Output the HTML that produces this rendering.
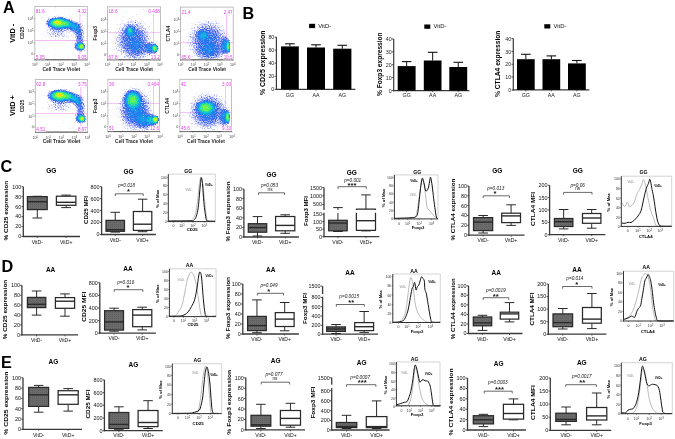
<!DOCTYPE html>
<html><head><meta charset="utf-8"><title>Figure</title>
<style>
html,body{margin:0;padding:0;background:#fff;}
body{width:675px;height:439px;overflow:hidden;}
svg{display:block;}
text{font-family:"Liberation Sans",Arial,sans-serif;}
</style></head>
<body>
<svg width="675" height="439" viewBox="0 0 675 439">
<defs>
<pattern id="gpat" width="2" height="2" patternUnits="userSpaceOnUse">
<rect width="2" height="2" fill="#6b6b6b"/><rect width="1" height="1" fill="#5e5e5e"/>
</pattern>
<radialGradient id="blob">
<stop offset="0" stop-color="#fff" stop-opacity="1"/>
<stop offset="0.3" stop-color="#fff" stop-opacity="0.9"/>
<stop offset="0.5" stop-color="#fff" stop-opacity="0.7"/>
<stop offset="0.7" stop-color="#fff" stop-opacity="0.42"/>
<stop offset="0.85" stop-color="#fff" stop-opacity="0.18"/>
<stop offset="1" stop-color="#fff" stop-opacity="0"/>
</radialGradient>
<filter id="dens" x="0" y="0" width="1" height="1" color-interpolation-filters="sRGB">
<feTurbulence type="fractalNoise" baseFrequency="0.85" numOctaves="1" seed="7" result="nz"/>
<feColorMatrix in="nz" type="matrix" values="1 0 0 0 0  1 0 0 0 0  1 0 0 0 0  0 0 0 0 1" result="ng"/>
<feComposite in="SourceGraphic" in2="ng" operator="arithmetic" k1="0" k2="1" k3="0.25" k4="-0.12" result="dn"/>
<feComponentTransfer in="dn" result="col">
<feFuncR type="table" tableValues="0.720 0.688 0.656 0.624 0.592 0.560 0.520 0.480 0.440 0.400 0.360 0.332 0.304 0.276 0.248 0.220 0.200 0.180 0.160 0.140 0.120 0.106 0.092 0.078 0.064 0.050 0.080 0.110 0.140 0.170 0.200 0.260 0.320 0.380 0.440 0.500 0.570 0.640 0.710 0.780 0.850 0.887 0.925 0.962 1.000 1.000 1.000 1.000 0.973 0.947 0.920"/>
<feFuncG type="table" tableValues="0.720 0.692 0.664 0.636 0.608 0.580 0.548 0.516 0.484 0.452 0.420 0.408 0.396 0.384 0.372 0.360 0.388 0.416 0.444 0.472 0.500 0.548 0.596 0.644 0.692 0.740 0.772 0.804 0.836 0.868 0.900 0.914 0.928 0.942 0.956 0.970 0.976 0.982 0.988 0.994 1.000 0.945 0.890 0.835 0.780 0.660 0.540 0.420 0.320 0.220 0.120"/>
<feFuncB type="table" tableValues="1.000 1.000 1.000 1.000 1.000 1.000 0.994 0.988 0.982 0.976 0.970 0.964 0.958 0.952 0.946 0.940 0.938 0.936 0.934 0.932 0.930 0.924 0.918 0.912 0.906 0.900 0.830 0.760 0.690 0.620 0.550 0.490 0.430 0.370 0.310 0.250 0.216 0.182 0.148 0.114 0.080 0.060 0.040 0.020 0.000 0.000 0.000 0.000 0.000 0.000 0.000"/>
</feComponentTransfer>
<feComposite in="SourceGraphic" in2="ng" operator="arithmetic" k1="0" k2="4" k3="2.4" k4="-1.6" result="mk"/>
<feColorMatrix in="mk" type="matrix" values="0 0 0 0 0  0 0 0 0 0  0 0 0 0 0  1 0 0 0 0" result="ma"/>
<feComposite in="col" in2="ma" operator="in"/>
<feGaussianBlur stdDeviation="0.4"/>
</filter>
<clipPath id="fc0"><rect x="34.8" y="6.5" width="52.5" height="53.3"/></clipPath>
<clipPath id="fc1"><rect x="107.5" y="6.8" width="52.9" height="53"/></clipPath>
<clipPath id="fc2"><rect x="180.5" y="7.1" width="52.7" height="52.7"/></clipPath>
<clipPath id="fc3"><rect x="35.3" y="79.6" width="52.2" height="52.5"/></clipPath>
<clipPath id="fc4"><rect x="107.9" y="79.3" width="51.7" height="52.3"/></clipPath>
<clipPath id="fc5"><rect x="179.9" y="79.3" width="51.7" height="52.3"/></clipPath>
</defs>
<rect width="675" height="439" fill="#fff"/>
<line x1="34.8" y1="40.5" x2="87.3" y2="40.5" stroke="#e23ee6" stroke-width="0.6" opacity="0.6"/>
<line x1="79.9" y1="12.5" x2="79.9" y2="59.8" stroke="#e23ee6" stroke-width="0.6" opacity="0.6"/>
<g clip-path="url(#fc0)"><g filter="url(#dens)">
<rect x="34.8" y="6.5" width="52.5" height="53.3" fill="#000"/>
<ellipse cx="58" cy="33" rx="18" ry="8" fill="url(#blob)" opacity="0.18"/>
<ellipse cx="58.5" cy="23.5" rx="16" ry="8.8" fill="url(#blob)" opacity="0.45"/>
<ellipse cx="58.5" cy="22.8" rx="13.5" ry="6.2" fill="url(#blob)" opacity="0.5"/>
<ellipse cx="57.5" cy="22.4" rx="5" ry="2.8" fill="url(#blob)" opacity="0.5"/>
<ellipse cx="70.5" cy="25" rx="8" ry="7" fill="url(#blob)" opacity="0.38"/>
<ellipse cx="75.5" cy="28" rx="6" ry="7.5" fill="url(#blob)" opacity="0.32"/>
<ellipse cx="79.6" cy="35.5" rx="6" ry="17" fill="url(#blob)" opacity="0.32"/>
<ellipse cx="77" cy="46" rx="5" ry="6" fill="url(#blob)" opacity="0.2"/>
<ellipse cx="80.5" cy="47" rx="6.5" ry="6" fill="url(#blob)" opacity="0.4"/>
<ellipse cx="82" cy="46.6" rx="3.2" ry="3.8" fill="url(#blob)" opacity="0.6"/>
</g></g>
<rect x="34.8" y="6.5" width="52.5" height="53.3" fill="none" stroke="#b0b0b0" stroke-width="0.8"/>
<line x1="34.8" y1="59.8" x2="87.3" y2="59.8" stroke="#444" stroke-width="0.9"/>
<rect x="35.5" y="8.3" width="9.8" height="5.4" fill="#fff"/>
<rect x="77.2" y="8.3" width="9.8" height="5.4" fill="#fff"/>
<rect x="35.5" y="54" width="9.8" height="5.4" fill="#fff"/>
<rect x="77.2" y="54" width="9.8" height="5.4" fill="#fff"/>
<line x1="107.5" y1="32.3" x2="160.4" y2="32.3" stroke="#e23ee6" stroke-width="0.6" opacity="0.6"/>
<line x1="153.3" y1="12.8" x2="153.3" y2="59.8" stroke="#e23ee6" stroke-width="0.6" opacity="0.6"/>
<g clip-path="url(#fc1)"><g filter="url(#dens)">
<rect x="107.5" y="6.8" width="52.9" height="53" fill="#000"/>
<ellipse cx="133" cy="40" rx="22" ry="25" fill="url(#blob)" opacity="0.36"/>
<ellipse cx="141" cy="50" rx="17" ry="12" fill="url(#blob)" opacity="0.12"/>
<ellipse cx="130" cy="31" rx="6.5" ry="7.5" fill="url(#blob)" opacity="0.25"/>
<ellipse cx="130" cy="30" rx="2.5" ry="3" fill="url(#blob)" opacity="0.3"/>
<ellipse cx="152" cy="48.5" rx="8.5" ry="8" fill="url(#blob)" opacity="0.35"/>
<ellipse cx="155" cy="48.2" rx="3.5" ry="5" fill="url(#blob)" opacity="0.6"/>
</g></g>
<rect x="107.5" y="6.8" width="52.9" height="53" fill="none" stroke="#b0b0b0" stroke-width="0.8"/>
<line x1="107.5" y1="59.8" x2="160.4" y2="59.8" stroke="#444" stroke-width="0.9"/>
<rect x="108.2" y="8.6" width="9.8" height="5.4" fill="#fff"/>
<rect x="148" y="8.6" width="12.1" height="5.4" fill="#fff"/>
<rect x="108.2" y="54" width="9.8" height="5.4" fill="#fff"/>
<rect x="150.3" y="54" width="9.8" height="5.4" fill="#fff"/>
<line x1="180.5" y1="42.4" x2="233.2" y2="42.4" stroke="#e23ee6" stroke-width="0.6" opacity="0.6"/>
<line x1="226.6" y1="13.1" x2="226.6" y2="59.8" stroke="#e23ee6" stroke-width="0.6" opacity="0.6"/>
<g clip-path="url(#fc2)"><g filter="url(#dens)">
<rect x="180.5" y="7.1" width="52.7" height="52.7" fill="#000"/>
<ellipse cx="208" cy="40" rx="24" ry="24" fill="url(#blob)" opacity="0.36"/>
<ellipse cx="210" cy="53" rx="20" ry="11" fill="url(#blob)" opacity="0.18"/>
<ellipse cx="202.5" cy="35" rx="7" ry="7" fill="url(#blob)" opacity="0.25"/>
<ellipse cx="225.5" cy="46" rx="6" ry="12" fill="url(#blob)" opacity="0.35"/>
<ellipse cx="228.3" cy="46.5" rx="2.4" ry="8" fill="url(#blob)" opacity="0.55"/>
</g></g>
<rect x="180.5" y="7.1" width="52.7" height="52.7" fill="none" stroke="#b0b0b0" stroke-width="0.8"/>
<line x1="180.5" y1="59.8" x2="233.2" y2="59.8" stroke="#444" stroke-width="0.9"/>
<rect x="181.2" y="8.9" width="9.8" height="5.4" fill="#fff"/>
<rect x="223.1" y="8.9" width="9.8" height="5.4" fill="#fff"/>
<rect x="181.2" y="54" width="9.8" height="5.4" fill="#fff"/>
<rect x="223.1" y="54" width="9.8" height="5.4" fill="#fff"/>
<line x1="35.3" y1="113.4" x2="87.5" y2="113.4" stroke="#e23ee6" stroke-width="0.6" opacity="0.6"/>
<line x1="80.8" y1="85.6" x2="80.8" y2="132.1" stroke="#e23ee6" stroke-width="0.6" opacity="0.6"/>
<g clip-path="url(#fc3)"><g filter="url(#dens)">
<rect x="35.3" y="79.6" width="52.2" height="52.5" fill="#000"/>
<ellipse cx="60" cy="106" rx="17" ry="8" fill="url(#blob)" opacity="0.18"/>
<ellipse cx="60" cy="96" rx="16.5" ry="8.8" fill="url(#blob)" opacity="0.45"/>
<ellipse cx="60" cy="95.5" rx="13.5" ry="6.3" fill="url(#blob)" opacity="0.52"/>
<ellipse cx="59.5" cy="94.8" rx="5" ry="2.8" fill="url(#blob)" opacity="0.52"/>
<ellipse cx="72" cy="97.5" rx="8" ry="7" fill="url(#blob)" opacity="0.38"/>
<ellipse cx="76.5" cy="100.5" rx="6" ry="7.5" fill="url(#blob)" opacity="0.32"/>
<ellipse cx="80.5" cy="107.5" rx="6" ry="17" fill="url(#blob)" opacity="0.32"/>
<ellipse cx="78" cy="118" rx="5" ry="6" fill="url(#blob)" opacity="0.2"/>
<ellipse cx="81.5" cy="119" rx="6.5" ry="6" fill="url(#blob)" opacity="0.4"/>
<ellipse cx="82.5" cy="118.8" rx="3.2" ry="3.8" fill="url(#blob)" opacity="0.6"/>
</g></g>
<rect x="35.3" y="79.6" width="52.2" height="52.5" fill="none" stroke="#b0b0b0" stroke-width="0.8"/>
<line x1="35.3" y1="132.1" x2="87.5" y2="132.1" stroke="#444" stroke-width="0.9"/>
<rect x="36" y="81.4" width="9.8" height="5.4" fill="#fff"/>
<rect x="77.4" y="81.4" width="9.8" height="5.4" fill="#fff"/>
<rect x="36" y="126.3" width="9.8" height="5.4" fill="#fff"/>
<rect x="77.4" y="126.3" width="9.8" height="5.4" fill="#fff"/>
<line x1="107.9" y1="103.3" x2="159.6" y2="103.3" stroke="#e23ee6" stroke-width="0.6" opacity="0.6"/>
<line x1="153.4" y1="85.3" x2="153.4" y2="131.6" stroke="#e23ee6" stroke-width="0.6" opacity="0.6"/>
<g clip-path="url(#fc4)"><g filter="url(#dens)">
<rect x="107.9" y="79.3" width="51.7" height="52.3" fill="#000"/>
<ellipse cx="135" cy="110" rx="20" ry="25" fill="url(#blob)" opacity="0.42"/>
<ellipse cx="147" cy="122" rx="13" ry="11" fill="url(#blob)" opacity="0.3"/>
<ellipse cx="132.5" cy="98.5" rx="11" ry="11.5" fill="url(#blob)" opacity="0.45"/>
<ellipse cx="132.5" cy="98.5" rx="6.5" ry="8" fill="url(#blob)" opacity="0.12"/>
<ellipse cx="152.5" cy="120" rx="7.5" ry="7.5" fill="url(#blob)" opacity="0.35"/>
<ellipse cx="155.7" cy="119.5" rx="3.8" ry="4.5" fill="url(#blob)" opacity="0.7"/>
</g></g>
<rect x="107.9" y="79.3" width="51.7" height="52.3" fill="none" stroke="#b0b0b0" stroke-width="0.8"/>
<line x1="107.9" y1="131.6" x2="159.6" y2="131.6" stroke="#444" stroke-width="0.9"/>
<rect x="108.6" y="81.1" width="5.2" height="5.4" fill="#fff"/>
<rect x="147.2" y="81.1" width="12.1" height="5.4" fill="#fff"/>
<rect x="108.6" y="125.8" width="5.2" height="5.4" fill="#fff"/>
<rect x="149.5" y="125.8" width="9.8" height="5.4" fill="#fff"/>
<line x1="179.9" y1="112.7" x2="231.6" y2="112.7" stroke="#e23ee6" stroke-width="0.6" opacity="0.6"/>
<line x1="225.4" y1="85.3" x2="225.4" y2="131.6" stroke="#e23ee6" stroke-width="0.6" opacity="0.6"/>
<g clip-path="url(#fc5)"><g filter="url(#dens)">
<rect x="179.9" y="79.3" width="51.7" height="52.3" fill="#000"/>
<ellipse cx="208" cy="111.5" rx="23" ry="22.5" fill="url(#blob)" opacity="0.4"/>
<ellipse cx="205.5" cy="107.5" rx="11" ry="8" fill="url(#blob)" opacity="0.45"/>
<ellipse cx="205.5" cy="107.5" rx="7" ry="5" fill="url(#blob)" opacity="0.12"/>
<ellipse cx="225" cy="118" rx="6.5" ry="12" fill="url(#blob)" opacity="0.35"/>
<ellipse cx="227.7" cy="117" rx="2.5" ry="8" fill="url(#blob)" opacity="0.6"/>
</g></g>
<rect x="179.9" y="79.3" width="51.7" height="52.3" fill="none" stroke="#b0b0b0" stroke-width="0.8"/>
<line x1="179.9" y1="131.6" x2="231.6" y2="131.6" stroke="#444" stroke-width="0.9"/>
<rect x="180.6" y="81.1" width="5.2" height="5.4" fill="#fff"/>
<rect x="221.5" y="81.1" width="9.8" height="5.4" fill="#fff"/>
<rect x="180.6" y="125.8" width="9.8" height="5.4" fill="#fff"/>
<rect x="221.5" y="125.8" width="9.8" height="5.4" fill="#fff"/>
<text x="3" y="13" font-size="16.2" font-weight="bold">A</text>
<text x="242.6" y="19" font-size="16.2" font-weight="bold">B</text>
<text x="0.6" y="172" font-size="16.2" font-weight="bold">C</text>
<text x="1.4" y="272" font-size="16.2" font-weight="bold">D</text>
<text x="1" y="368" font-size="16.2" font-weight="bold">E</text>
<line x1="23.3" y1="186.7" x2="23.3" y2="237.1" stroke="#3a3a3a" stroke-width="1.3"/>
<line x1="22.7" y1="236.5" x2="80" y2="236.5" stroke="#3a3a3a" stroke-width="1.3"/>
<line x1="21.5" y1="236.5" x2="23.3" y2="236.5" stroke="#3a3a3a" stroke-width="0.9"/>
<text x="21.3" y="238" font-size="5.4" text-anchor="end" fill="#111">0</text>
<line x1="21.5" y1="226.54" x2="23.3" y2="226.54" stroke="#3a3a3a" stroke-width="0.9"/>
<text x="21.3" y="228" font-size="5.4" text-anchor="end" fill="#111">20</text>
<line x1="21.5" y1="216.58" x2="23.3" y2="216.58" stroke="#3a3a3a" stroke-width="0.9"/>
<text x="21.3" y="218" font-size="5.4" text-anchor="end" fill="#111">40</text>
<line x1="21.5" y1="206.62" x2="23.3" y2="206.62" stroke="#3a3a3a" stroke-width="0.9"/>
<text x="21.3" y="209" font-size="5.4" text-anchor="end" fill="#111">60</text>
<line x1="21.5" y1="196.66" x2="23.3" y2="196.66" stroke="#3a3a3a" stroke-width="0.9"/>
<text x="21.3" y="199" font-size="5.4" text-anchor="end" fill="#111">80</text>
<line x1="21.5" y1="186.7" x2="23.3" y2="186.7" stroke="#3a3a3a" stroke-width="0.9"/>
<text x="21.3" y="189" font-size="5.4" text-anchor="end" fill="#111">100</text>
<line x1="37.3" y1="196.3" x2="37.3" y2="196.6" stroke="#2a2a2a" stroke-width="1"/>
<line x1="37.3" y1="209.6" x2="37.3" y2="218" stroke="#2a2a2a" stroke-width="1"/>
<line x1="32.5" y1="196.3" x2="42.1" y2="196.3" stroke="#2a2a2a" stroke-width="1"/>
<line x1="32.5" y1="218" x2="42.1" y2="218" stroke="#2a2a2a" stroke-width="1"/>
<rect x="27.4" y="196.6" width="19.8" height="13" fill="url(#gpat)" stroke="#2a2a2a" stroke-width="1.25"/>
<line x1="27.4" y1="201.7" x2="47.2" y2="201.7" stroke="#2a2a2a" stroke-width="1.4"/>
<line x1="37.3" y1="236.5" x2="37.3" y2="238" stroke="#3a3a3a" stroke-width="0.8"/>
<line x1="66.15" y1="195.1" x2="66.15" y2="196.2" stroke="#2a2a2a" stroke-width="1"/>
<line x1="66.15" y1="205.3" x2="66.15" y2="207.6" stroke="#2a2a2a" stroke-width="1"/>
<line x1="61.35" y1="195.1" x2="70.95" y2="195.1" stroke="#2a2a2a" stroke-width="1"/>
<line x1="61.35" y1="207.6" x2="70.95" y2="207.6" stroke="#2a2a2a" stroke-width="1"/>
<rect x="56.4" y="196.2" width="19.5" height="9.1" fill="#fff" stroke="#2a2a2a" stroke-width="1.25"/>
<line x1="56.4" y1="202.3" x2="75.9" y2="202.3" stroke="#2a2a2a" stroke-width="1.4"/>
<line x1="66.15" y1="236.5" x2="66.15" y2="238" stroke="#3a3a3a" stroke-width="0.8"/>
<text x="37.3" y="244" font-size="5.1" text-anchor="middle" fill="#111">VitD-</text>
<text x="66.15" y="244" font-size="5.1" text-anchor="middle" fill="#111">VitD+</text>
<text x="51.3" y="173" font-size="6.5" text-anchor="middle" font-weight="bold">GG</text>
<text x="0" y="0" transform="translate(7.65 210.7) rotate(-90)" font-size="6" text-anchor="middle" font-weight="bold" textLength="59.6" lengthAdjust="spacingAndGlyphs">% CD25 expression</text>
<line x1="101.6" y1="186.7" x2="101.6" y2="235.1" stroke="#3a3a3a" stroke-width="1.3"/>
<line x1="101" y1="234.5" x2="155.9" y2="234.5" stroke="#3a3a3a" stroke-width="1.3"/>
<line x1="99.8" y1="234.5" x2="101.6" y2="234.5" stroke="#3a3a3a" stroke-width="0.9"/>
<text x="99.6" y="236" font-size="5.4" text-anchor="end" fill="#111">0</text>
<line x1="99.8" y1="222.55" x2="101.6" y2="222.55" stroke="#3a3a3a" stroke-width="0.9"/>
<text x="99.6" y="224" font-size="5.4" text-anchor="end" fill="#111">200</text>
<line x1="99.8" y1="210.6" x2="101.6" y2="210.6" stroke="#3a3a3a" stroke-width="0.9"/>
<text x="99.6" y="213" font-size="5.4" text-anchor="end" fill="#111">400</text>
<line x1="99.8" y1="198.65" x2="101.6" y2="198.65" stroke="#3a3a3a" stroke-width="0.9"/>
<text x="99.6" y="201" font-size="5.4" text-anchor="end" fill="#111">600</text>
<line x1="99.8" y1="186.7" x2="101.6" y2="186.7" stroke="#3a3a3a" stroke-width="0.9"/>
<text x="99.6" y="189" font-size="5.4" text-anchor="end" fill="#111">800</text>
<line x1="115.25" y1="212.3" x2="115.25" y2="220.4" stroke="#2a2a2a" stroke-width="1"/>
<line x1="115.25" y1="231.3" x2="115.25" y2="232.1" stroke="#2a2a2a" stroke-width="1"/>
<line x1="110.45" y1="212.3" x2="120.05" y2="212.3" stroke="#2a2a2a" stroke-width="1"/>
<line x1="110.45" y1="232.1" x2="120.05" y2="232.1" stroke="#2a2a2a" stroke-width="1"/>
<rect x="106" y="220.4" width="18.5" height="10.9" fill="url(#gpat)" stroke="#2a2a2a" stroke-width="1.25"/>
<line x1="106" y1="229.7" x2="124.5" y2="229.7" stroke="#2a2a2a" stroke-width="1.4"/>
<line x1="115.25" y1="234.5" x2="115.25" y2="236" stroke="#3a3a3a" stroke-width="0.8"/>
<line x1="142.6" y1="199.2" x2="142.6" y2="211.5" stroke="#2a2a2a" stroke-width="1"/>
<line x1="142.6" y1="230.4" x2="142.6" y2="231.7" stroke="#2a2a2a" stroke-width="1"/>
<line x1="137.8" y1="199.2" x2="147.4" y2="199.2" stroke="#2a2a2a" stroke-width="1"/>
<line x1="137.8" y1="231.7" x2="147.4" y2="231.7" stroke="#2a2a2a" stroke-width="1"/>
<rect x="133.4" y="211.5" width="18.4" height="18.9" fill="#fff" stroke="#2a2a2a" stroke-width="1.25"/>
<line x1="133.4" y1="224.2" x2="151.8" y2="224.2" stroke="#2a2a2a" stroke-width="1.4"/>
<line x1="142.6" y1="234.5" x2="142.6" y2="236" stroke="#3a3a3a" stroke-width="0.8"/>
<text x="115.25" y="242" font-size="5.1" text-anchor="middle" fill="#111">VitD-</text>
<text x="142.6" y="242" font-size="5.1" text-anchor="middle" fill="#111">VitD+</text>
<text x="128.6" y="174" font-size="6.5" text-anchor="middle" font-weight="bold">GG</text>
<text x="0" y="0" transform="translate(88.05 210) rotate(-90)" font-size="6" text-anchor="middle" font-weight="bold" textLength="28" lengthAdjust="spacingAndGlyphs">CD25 MFI</text>
<path d="M115.3 196 V193.8 H143.2 V196" fill="none" stroke="#444" stroke-width="0.8" stroke-linejoin="round"/>
<text x="126.5" y="187" font-size="4.7" text-anchor="middle" fill="#222" font-style="italic">p=0.018</text>
<text x="128.6" y="194" font-size="7.6" text-anchor="middle" font-weight="bold" fill="#111">*</text>
<line x1="243.9" y1="189" x2="243.9" y2="237.6" stroke="#3a3a3a" stroke-width="1.3"/>
<line x1="243.3" y1="237" x2="298.9" y2="237" stroke="#3a3a3a" stroke-width="1.3"/>
<line x1="242.1" y1="237" x2="243.9" y2="237" stroke="#3a3a3a" stroke-width="0.9"/>
<text x="241.9" y="239" font-size="5.4" text-anchor="end" fill="#111">0</text>
<line x1="242.1" y1="227.4" x2="243.9" y2="227.4" stroke="#3a3a3a" stroke-width="0.9"/>
<text x="241.9" y="229" font-size="5.4" text-anchor="end" fill="#111">20</text>
<line x1="242.1" y1="217.8" x2="243.9" y2="217.8" stroke="#3a3a3a" stroke-width="0.9"/>
<text x="241.9" y="220" font-size="5.4" text-anchor="end" fill="#111">40</text>
<line x1="242.1" y1="208.2" x2="243.9" y2="208.2" stroke="#3a3a3a" stroke-width="0.9"/>
<text x="241.9" y="210" font-size="5.4" text-anchor="end" fill="#111">60</text>
<line x1="242.1" y1="198.6" x2="243.9" y2="198.6" stroke="#3a3a3a" stroke-width="0.9"/>
<text x="241.9" y="201" font-size="5.4" text-anchor="end" fill="#111">80</text>
<line x1="242.1" y1="189" x2="243.9" y2="189" stroke="#3a3a3a" stroke-width="0.9"/>
<text x="241.9" y="191" font-size="5.4" text-anchor="end" fill="#111">100</text>
<line x1="257.5" y1="216.6" x2="257.5" y2="223.7" stroke="#2a2a2a" stroke-width="1"/>
<line x1="257.5" y1="232.2" x2="257.5" y2="236" stroke="#2a2a2a" stroke-width="1"/>
<line x1="252.7" y1="216.6" x2="262.3" y2="216.6" stroke="#2a2a2a" stroke-width="1"/>
<line x1="252.7" y1="236" x2="262.3" y2="236" stroke="#2a2a2a" stroke-width="1"/>
<rect x="248.3" y="223.7" width="18.4" height="8.5" fill="url(#gpat)" stroke="#2a2a2a" stroke-width="1.25"/>
<line x1="248.3" y1="227.6" x2="266.7" y2="227.6" stroke="#2a2a2a" stroke-width="1.4"/>
<line x1="257.5" y1="237" x2="257.5" y2="238.5" stroke="#3a3a3a" stroke-width="0.8"/>
<line x1="285.2" y1="214.8" x2="285.2" y2="216.5" stroke="#2a2a2a" stroke-width="1"/>
<line x1="285.2" y1="230.8" x2="285.2" y2="233.3" stroke="#2a2a2a" stroke-width="1"/>
<line x1="280.4" y1="214.8" x2="290" y2="214.8" stroke="#2a2a2a" stroke-width="1"/>
<line x1="280.4" y1="233.3" x2="290" y2="233.3" stroke="#2a2a2a" stroke-width="1"/>
<rect x="275.6" y="216.5" width="19.2" height="14.3" fill="#fff" stroke="#2a2a2a" stroke-width="1.25"/>
<line x1="275.6" y1="225.4" x2="294.8" y2="225.4" stroke="#2a2a2a" stroke-width="1.4"/>
<line x1="285.2" y1="237" x2="285.2" y2="238.5" stroke="#3a3a3a" stroke-width="0.8"/>
<text x="257.5" y="244" font-size="5.1" text-anchor="middle" fill="#111">VitD-</text>
<text x="285.2" y="244" font-size="5.1" text-anchor="middle" fill="#111">VitD+</text>
<text x="271.5" y="177" font-size="6.5" text-anchor="middle" font-weight="bold">GG</text>
<text x="0" y="0" transform="translate(229.75 211.5) rotate(-90)" font-size="6" text-anchor="middle" font-weight="bold" textLength="60" lengthAdjust="spacingAndGlyphs">% Foxp3 expression</text>
<path d="M258.5 195 V192.8 H284.5 V195" fill="none" stroke="#444" stroke-width="0.8" stroke-linejoin="round"/>
<text x="269.5" y="187" font-size="4.7" text-anchor="middle" fill="#222" font-style="italic">p=0.053</text>
<text x="270.1" y="191" font-size="4.7" text-anchor="middle" fill="#222">ns</text>
<line x1="324" y1="187.6" x2="324" y2="210" stroke="#3a3a3a" stroke-width="1.3"/>
<line x1="324" y1="212.8" x2="324" y2="237.3" stroke="#3a3a3a" stroke-width="1.3"/>
<line x1="323.4" y1="236.7" x2="379.3" y2="236.7" stroke="#3a3a3a" stroke-width="1.3"/>
<line x1="322.2" y1="236.7" x2="324" y2="236.7" stroke="#3a3a3a" stroke-width="0.9"/>
<text x="322" y="239" font-size="5.4" text-anchor="end" fill="#111">0</text>
<line x1="322.2" y1="229.2" x2="324" y2="229.2" stroke="#3a3a3a" stroke-width="0.9"/>
<text x="322" y="231" font-size="5.4" text-anchor="end" fill="#111">50</text>
<line x1="322.2" y1="221.7" x2="324" y2="221.7" stroke="#3a3a3a" stroke-width="0.9"/>
<text x="322" y="224" font-size="5.4" text-anchor="end" fill="#111">100</text>
<line x1="322.2" y1="214.2" x2="324" y2="214.2" stroke="#3a3a3a" stroke-width="0.9"/>
<text x="322" y="216" font-size="5.4" text-anchor="end" fill="#111">150</text>
<line x1="322.2" y1="204.5" x2="324" y2="204.5" stroke="#3a3a3a" stroke-width="0.9"/>
<text x="322" y="206" font-size="5.4" text-anchor="end" fill="#111">500</text>
<line x1="322.2" y1="195.8" x2="324" y2="195.8" stroke="#3a3a3a" stroke-width="0.9"/>
<text x="322" y="198" font-size="5.4" text-anchor="end" fill="#111">1000</text>
<line x1="322.2" y1="187.6" x2="324" y2="187.6" stroke="#3a3a3a" stroke-width="0.9"/>
<text x="322" y="190" font-size="5.4" text-anchor="end" fill="#111">1500</text>
<line x1="337.95" y1="220.3" x2="337.95" y2="213.1" stroke="#2a2a2a" stroke-width="1"/>
<line x1="337.95" y1="207.6" x2="337.95" y2="210" stroke="#2a2a2a" stroke-width="1"/>
<line x1="337.95" y1="230.8" x2="337.95" y2="231.5" stroke="#2a2a2a" stroke-width="1"/>
<line x1="333.15" y1="207.6" x2="342.75" y2="207.6" stroke="#2a2a2a" stroke-width="1"/>
<line x1="333.15" y1="231.5" x2="342.75" y2="231.5" stroke="#2a2a2a" stroke-width="1"/>
<rect x="328.7" y="220.3" width="18.5" height="10.5" fill="url(#gpat)" stroke="#2a2a2a" stroke-width="1.25"/>
<line x1="328.7" y1="223" x2="347.2" y2="223" stroke="#2a2a2a" stroke-width="1.4"/>
<line x1="337.95" y1="236.7" x2="337.95" y2="238.2" stroke="#3a3a3a" stroke-width="0.8"/>
<line x1="365.95" y1="194.9" x2="365.95" y2="209.1" stroke="#2a2a2a" stroke-width="1"/>
<line x1="365.95" y1="230.3" x2="365.95" y2="230.9" stroke="#2a2a2a" stroke-width="1"/>
<line x1="361.15" y1="194.9" x2="370.75" y2="194.9" stroke="#2a2a2a" stroke-width="1"/>
<line x1="361.15" y1="230.9" x2="370.75" y2="230.9" stroke="#2a2a2a" stroke-width="1"/>
<rect x="356.4" y="212.8" width="19.1" height="17.5" fill="#fff"/>
<rect x="356.4" y="209.1" width="19.1" height="0.9" fill="#fff"/>
<path d="M356.4 212.8 V230.3 H375.5 V212.8" fill="none" stroke="#2a2a2a" stroke-width="1.25" stroke-linejoin="round"/>
<path d="M356.4 210 V209.1 H375.5 V210" fill="none" stroke="#2a2a2a" stroke-width="1.25" stroke-linejoin="round"/>
<line x1="356.4" y1="220.7" x2="375.5" y2="220.7" stroke="#2a2a2a" stroke-width="1.4"/>
<line x1="365.95" y1="236.7" x2="365.95" y2="238.2" stroke="#3a3a3a" stroke-width="0.8"/>
<text x="337.95" y="244" font-size="5.1" text-anchor="middle" fill="#111">VitD-</text>
<text x="365.95" y="244" font-size="5.1" text-anchor="middle" fill="#111">VitD+</text>
<text x="351.7" y="175" font-size="6.5" text-anchor="middle" font-weight="bold">GG</text>
<text x="0" y="0" transform="translate(307.65 211) rotate(-90)" font-size="6" text-anchor="middle" font-weight="bold" textLength="30" lengthAdjust="spacingAndGlyphs">Foxp3 MFI</text>
<path d="M338 188.9 V186.7 H366.3 V188.9" fill="none" stroke="#444" stroke-width="0.8" stroke-linejoin="round"/>
<text x="352.7" y="182" font-size="4.7" text-anchor="middle" fill="#222" font-style="italic">p=0.001</text>
<text x="352" y="188" font-size="7.6" text-anchor="middle" font-weight="bold" fill="#111">***</text>
<line x1="468.9" y1="186" x2="468.9" y2="235.7" stroke="#3a3a3a" stroke-width="1.3"/>
<line x1="468.3" y1="235.1" x2="524.6" y2="235.1" stroke="#3a3a3a" stroke-width="1.3"/>
<line x1="467.1" y1="235.1" x2="468.9" y2="235.1" stroke="#3a3a3a" stroke-width="0.9"/>
<text x="466.9" y="237" font-size="5.4" text-anchor="end" fill="#111">0</text>
<line x1="467.1" y1="225.28" x2="468.9" y2="225.28" stroke="#3a3a3a" stroke-width="0.9"/>
<text x="466.9" y="227" font-size="5.4" text-anchor="end" fill="#111">20</text>
<line x1="467.1" y1="215.46" x2="468.9" y2="215.46" stroke="#3a3a3a" stroke-width="0.9"/>
<text x="466.9" y="217" font-size="5.4" text-anchor="end" fill="#111">40</text>
<line x1="467.1" y1="205.64" x2="468.9" y2="205.64" stroke="#3a3a3a" stroke-width="0.9"/>
<text x="466.9" y="208" font-size="5.4" text-anchor="end" fill="#111">60</text>
<line x1="467.1" y1="195.82" x2="468.9" y2="195.82" stroke="#3a3a3a" stroke-width="0.9"/>
<text x="466.9" y="198" font-size="5.4" text-anchor="end" fill="#111">80</text>
<line x1="467.1" y1="186" x2="468.9" y2="186" stroke="#3a3a3a" stroke-width="0.9"/>
<text x="466.9" y="188" font-size="5.4" text-anchor="end" fill="#111">100</text>
<line x1="483.1" y1="215.5" x2="483.1" y2="217.6" stroke="#2a2a2a" stroke-width="1"/>
<line x1="483.1" y1="230.6" x2="483.1" y2="233" stroke="#2a2a2a" stroke-width="1"/>
<line x1="478.3" y1="215.5" x2="487.9" y2="215.5" stroke="#2a2a2a" stroke-width="1"/>
<line x1="478.3" y1="233" x2="487.9" y2="233" stroke="#2a2a2a" stroke-width="1"/>
<rect x="473.5" y="217.6" width="19.2" height="13" fill="url(#gpat)" stroke="#2a2a2a" stroke-width="1.25"/>
<line x1="473.5" y1="222.1" x2="492.7" y2="222.1" stroke="#2a2a2a" stroke-width="1.4"/>
<line x1="483.1" y1="235.1" x2="483.1" y2="236.6" stroke="#3a3a3a" stroke-width="0.8"/>
<line x1="511.1" y1="204.8" x2="511.1" y2="213.2" stroke="#2a2a2a" stroke-width="1"/>
<line x1="511.1" y1="222.6" x2="511.1" y2="225.4" stroke="#2a2a2a" stroke-width="1"/>
<line x1="506.3" y1="204.8" x2="515.9" y2="204.8" stroke="#2a2a2a" stroke-width="1"/>
<line x1="506.3" y1="225.4" x2="515.9" y2="225.4" stroke="#2a2a2a" stroke-width="1"/>
<rect x="501.7" y="213.2" width="18.8" height="9.4" fill="#fff" stroke="#2a2a2a" stroke-width="1.25"/>
<line x1="501.7" y1="215.9" x2="520.5" y2="215.9" stroke="#2a2a2a" stroke-width="1.4"/>
<line x1="511.1" y1="235.1" x2="511.1" y2="236.6" stroke="#3a3a3a" stroke-width="0.8"/>
<text x="483.1" y="242" font-size="5.1" text-anchor="middle" fill="#111">VitD-</text>
<text x="511.1" y="242" font-size="5.1" text-anchor="middle" fill="#111">VitD+</text>
<text x="497.2" y="173" font-size="6.5" text-anchor="middle" font-weight="bold">GG</text>
<text x="0" y="0" transform="translate(454.65 209.6) rotate(-90)" font-size="6" text-anchor="middle" font-weight="bold" textLength="62" lengthAdjust="spacingAndGlyphs">% CTLA4 expression</text>
<path d="M483.2 198 V195.8 H509.5 V198" fill="none" stroke="#444" stroke-width="0.8" stroke-linejoin="round"/>
<text x="495.8" y="190" font-size="4.7" text-anchor="middle" fill="#222" font-style="italic">p=0.013</text>
<text x="494.9" y="196" font-size="7.6" text-anchor="middle" font-weight="bold" fill="#111">*</text>
<line x1="549.6" y1="185.3" x2="549.6" y2="235.3" stroke="#3a3a3a" stroke-width="1.3"/>
<line x1="549" y1="234.7" x2="605.4" y2="234.7" stroke="#3a3a3a" stroke-width="1.3"/>
<line x1="547.8" y1="234.7" x2="549.6" y2="234.7" stroke="#3a3a3a" stroke-width="0.9"/>
<text x="547.6" y="237" font-size="5.4" text-anchor="end" fill="#111">0</text>
<line x1="547.8" y1="222.35" x2="549.6" y2="222.35" stroke="#3a3a3a" stroke-width="0.9"/>
<text x="547.6" y="224" font-size="5.4" text-anchor="end" fill="#111">50</text>
<line x1="547.8" y1="210" x2="549.6" y2="210" stroke="#3a3a3a" stroke-width="0.9"/>
<text x="547.6" y="212" font-size="5.4" text-anchor="end" fill="#111">100</text>
<line x1="547.8" y1="197.65" x2="549.6" y2="197.65" stroke="#3a3a3a" stroke-width="0.9"/>
<text x="547.6" y="200" font-size="5.4" text-anchor="end" fill="#111">150</text>
<line x1="547.8" y1="185.3" x2="549.6" y2="185.3" stroke="#3a3a3a" stroke-width="0.9"/>
<text x="547.6" y="187" font-size="5.4" text-anchor="end" fill="#111">200</text>
<line x1="563.65" y1="209.5" x2="563.65" y2="218.5" stroke="#2a2a2a" stroke-width="1"/>
<line x1="563.65" y1="226.5" x2="563.65" y2="228.9" stroke="#2a2a2a" stroke-width="1"/>
<line x1="558.85" y1="209.5" x2="568.45" y2="209.5" stroke="#2a2a2a" stroke-width="1"/>
<line x1="558.85" y1="228.9" x2="568.45" y2="228.9" stroke="#2a2a2a" stroke-width="1"/>
<rect x="554.4" y="218.5" width="18.5" height="8" fill="url(#gpat)" stroke="#2a2a2a" stroke-width="1.25"/>
<line x1="554.4" y1="221.7" x2="572.9" y2="221.7" stroke="#2a2a2a" stroke-width="1.4"/>
<line x1="563.65" y1="234.7" x2="563.65" y2="236.2" stroke="#3a3a3a" stroke-width="0.8"/>
<line x1="591.7" y1="209.5" x2="591.7" y2="213.5" stroke="#2a2a2a" stroke-width="1"/>
<line x1="591.7" y1="223.3" x2="591.7" y2="228.2" stroke="#2a2a2a" stroke-width="1"/>
<line x1="586.9" y1="209.5" x2="596.5" y2="209.5" stroke="#2a2a2a" stroke-width="1"/>
<line x1="586.9" y1="228.2" x2="596.5" y2="228.2" stroke="#2a2a2a" stroke-width="1"/>
<rect x="582.5" y="213.5" width="18.4" height="9.8" fill="#fff" stroke="#2a2a2a" stroke-width="1.25"/>
<line x1="582.5" y1="218" x2="600.9" y2="218" stroke="#2a2a2a" stroke-width="1.4"/>
<line x1="591.7" y1="234.7" x2="591.7" y2="236.2" stroke="#3a3a3a" stroke-width="0.8"/>
<text x="563.65" y="242" font-size="5.1" text-anchor="middle" fill="#111">VitD-</text>
<text x="591.7" y="242" font-size="5.1" text-anchor="middle" fill="#111">VitD+</text>
<text x="577.7" y="173" font-size="6.5" text-anchor="middle" font-weight="bold">GG</text>
<text x="0" y="0" transform="translate(535.35 208.9) rotate(-90)" font-size="6" text-anchor="middle" font-weight="bold" textLength="34" lengthAdjust="spacingAndGlyphs">CTLA4 MFI</text>
<path d="M563.6 194.6 V192.4 H592 V194.6" fill="none" stroke="#444" stroke-width="0.8" stroke-linejoin="round"/>
<text x="577.7" y="187" font-size="4.7" text-anchor="middle" fill="#222" font-style="italic">p=0.06</text>
<text x="577.7" y="190" font-size="4.7" text-anchor="middle" fill="#222">ns</text>
<line x1="21.9" y1="285.3" x2="21.9" y2="335.5" stroke="#3a3a3a" stroke-width="1.3"/>
<line x1="21.3" y1="334.9" x2="78" y2="334.9" stroke="#3a3a3a" stroke-width="1.3"/>
<line x1="20.1" y1="334.9" x2="21.9" y2="334.9" stroke="#3a3a3a" stroke-width="0.9"/>
<text x="19.9" y="337" font-size="5.4" text-anchor="end" fill="#111">0</text>
<line x1="20.1" y1="324.98" x2="21.9" y2="324.98" stroke="#3a3a3a" stroke-width="0.9"/>
<text x="19.9" y="327" font-size="5.4" text-anchor="end" fill="#111">20</text>
<line x1="20.1" y1="315.06" x2="21.9" y2="315.06" stroke="#3a3a3a" stroke-width="0.9"/>
<text x="19.9" y="317" font-size="5.4" text-anchor="end" fill="#111">40</text>
<line x1="20.1" y1="305.14" x2="21.9" y2="305.14" stroke="#3a3a3a" stroke-width="0.9"/>
<text x="19.9" y="307" font-size="5.4" text-anchor="end" fill="#111">60</text>
<line x1="20.1" y1="295.22" x2="21.9" y2="295.22" stroke="#3a3a3a" stroke-width="0.9"/>
<text x="19.9" y="297" font-size="5.4" text-anchor="end" fill="#111">80</text>
<line x1="20.1" y1="285.3" x2="21.9" y2="285.3" stroke="#3a3a3a" stroke-width="0.9"/>
<text x="19.9" y="287" font-size="5.4" text-anchor="end" fill="#111">100</text>
<line x1="36.6" y1="291" x2="36.6" y2="297.4" stroke="#2a2a2a" stroke-width="1"/>
<line x1="36.6" y1="307.6" x2="36.6" y2="315.1" stroke="#2a2a2a" stroke-width="1"/>
<line x1="31.8" y1="291" x2="41.4" y2="291" stroke="#2a2a2a" stroke-width="1"/>
<line x1="31.8" y1="315.1" x2="41.4" y2="315.1" stroke="#2a2a2a" stroke-width="1"/>
<rect x="27.4" y="297.4" width="18.4" height="10.2" fill="url(#gpat)" stroke="#2a2a2a" stroke-width="1.25"/>
<line x1="27.4" y1="304.3" x2="45.8" y2="304.3" stroke="#2a2a2a" stroke-width="1.4"/>
<line x1="36.6" y1="334.9" x2="36.6" y2="336.4" stroke="#3a3a3a" stroke-width="0.8"/>
<line x1="65" y1="293.9" x2="65" y2="297.6" stroke="#2a2a2a" stroke-width="1"/>
<line x1="65" y1="308.3" x2="65" y2="316.2" stroke="#2a2a2a" stroke-width="1"/>
<line x1="60.2" y1="293.9" x2="69.8" y2="293.9" stroke="#2a2a2a" stroke-width="1"/>
<line x1="60.2" y1="316.2" x2="69.8" y2="316.2" stroke="#2a2a2a" stroke-width="1"/>
<rect x="55.4" y="297.6" width="19.2" height="10.7" fill="#fff" stroke="#2a2a2a" stroke-width="1.25"/>
<line x1="55.4" y1="301.2" x2="74.6" y2="301.2" stroke="#2a2a2a" stroke-width="1.4"/>
<line x1="65" y1="334.9" x2="65" y2="336.4" stroke="#3a3a3a" stroke-width="0.8"/>
<text x="36.6" y="342" font-size="5.1" text-anchor="middle" fill="#111">VitD-</text>
<text x="65" y="342" font-size="5.1" text-anchor="middle" fill="#111">VitD+</text>
<text x="50.6" y="272" font-size="6.5" text-anchor="middle" font-weight="bold">AA</text>
<text x="0" y="0" transform="translate(7.15 309.5) rotate(-90)" font-size="6" text-anchor="middle" font-weight="bold" textLength="59.5" lengthAdjust="spacingAndGlyphs">% CD25 expression</text>
<line x1="99.8" y1="282.8" x2="99.8" y2="333.8" stroke="#3a3a3a" stroke-width="1.3"/>
<line x1="99.2" y1="333.2" x2="155.9" y2="333.2" stroke="#3a3a3a" stroke-width="1.3"/>
<line x1="98" y1="333.2" x2="99.8" y2="333.2" stroke="#3a3a3a" stroke-width="0.9"/>
<text x="97.8" y="335" font-size="5.4" text-anchor="end" fill="#111">0</text>
<line x1="98" y1="320.6" x2="99.8" y2="320.6" stroke="#3a3a3a" stroke-width="0.9"/>
<text x="97.8" y="323" font-size="5.4" text-anchor="end" fill="#111">200</text>
<line x1="98" y1="308" x2="99.8" y2="308" stroke="#3a3a3a" stroke-width="0.9"/>
<text x="97.8" y="310" font-size="5.4" text-anchor="end" fill="#111">400</text>
<line x1="98" y1="295.4" x2="99.8" y2="295.4" stroke="#3a3a3a" stroke-width="0.9"/>
<text x="97.8" y="297" font-size="5.4" text-anchor="end" fill="#111">600</text>
<line x1="98" y1="282.8" x2="99.8" y2="282.8" stroke="#3a3a3a" stroke-width="0.9"/>
<text x="97.8" y="285" font-size="5.4" text-anchor="end" fill="#111">800</text>
<line x1="114.05" y1="308.2" x2="114.05" y2="310.7" stroke="#2a2a2a" stroke-width="1"/>
<line x1="114.05" y1="330.1" x2="114.05" y2="331.2" stroke="#2a2a2a" stroke-width="1"/>
<line x1="109.25" y1="308.2" x2="118.85" y2="308.2" stroke="#2a2a2a" stroke-width="1"/>
<line x1="109.25" y1="331.2" x2="118.85" y2="331.2" stroke="#2a2a2a" stroke-width="1"/>
<rect x="104.6" y="310.7" width="18.9" height="19.4" fill="url(#gpat)" stroke="#2a2a2a" stroke-width="1.25"/>
<line x1="104.6" y1="321.9" x2="123.5" y2="321.9" stroke="#2a2a2a" stroke-width="1.4"/>
<line x1="114.05" y1="333.2" x2="114.05" y2="334.7" stroke="#3a3a3a" stroke-width="0.8"/>
<line x1="142.25" y1="307.2" x2="142.25" y2="309.6" stroke="#2a2a2a" stroke-width="1"/>
<line x1="142.25" y1="326.7" x2="142.25" y2="329.9" stroke="#2a2a2a" stroke-width="1"/>
<line x1="137.45" y1="307.2" x2="147.05" y2="307.2" stroke="#2a2a2a" stroke-width="1"/>
<line x1="137.45" y1="329.9" x2="147.05" y2="329.9" stroke="#2a2a2a" stroke-width="1"/>
<rect x="132.7" y="309.6" width="19.1" height="17.1" fill="#fff" stroke="#2a2a2a" stroke-width="1.25"/>
<line x1="132.7" y1="315.1" x2="151.8" y2="315.1" stroke="#2a2a2a" stroke-width="1.4"/>
<line x1="142.25" y1="333.2" x2="142.25" y2="334.7" stroke="#3a3a3a" stroke-width="0.8"/>
<text x="114.05" y="340" font-size="5.1" text-anchor="middle" fill="#111">VitD-</text>
<text x="142.25" y="340" font-size="5.1" text-anchor="middle" fill="#111">VitD+</text>
<text x="127.9" y="271" font-size="6.5" text-anchor="middle" font-weight="bold">AA</text>
<text x="0" y="0" transform="translate(85.65 306.7) rotate(-90)" font-size="6" text-anchor="middle" font-weight="bold" textLength="30" lengthAdjust="spacingAndGlyphs">CD25 MFI</text>
<path d="M114.2 291.9 V289.7 H142.9 V291.9" fill="none" stroke="#444" stroke-width="0.8" stroke-linejoin="round"/>
<text x="125.8" y="284" font-size="4.7" text-anchor="middle" fill="#222" font-style="italic">p=0.016</text>
<text x="127.9" y="290" font-size="7.6" text-anchor="middle" font-weight="bold" fill="#111">*</text>
<line x1="242.8" y1="284" x2="242.8" y2="334.6" stroke="#3a3a3a" stroke-width="1.3"/>
<line x1="242.2" y1="334" x2="298.9" y2="334" stroke="#3a3a3a" stroke-width="1.3"/>
<line x1="241" y1="334" x2="242.8" y2="334" stroke="#3a3a3a" stroke-width="0.9"/>
<text x="240.8" y="336" font-size="5.4" text-anchor="end" fill="#111">0</text>
<line x1="241" y1="324" x2="242.8" y2="324" stroke="#3a3a3a" stroke-width="0.9"/>
<text x="240.8" y="326" font-size="5.4" text-anchor="end" fill="#111">20</text>
<line x1="241" y1="314" x2="242.8" y2="314" stroke="#3a3a3a" stroke-width="0.9"/>
<text x="240.8" y="316" font-size="5.4" text-anchor="end" fill="#111">40</text>
<line x1="241" y1="304" x2="242.8" y2="304" stroke="#3a3a3a" stroke-width="0.9"/>
<text x="240.8" y="306" font-size="5.4" text-anchor="end" fill="#111">60</text>
<line x1="241" y1="294" x2="242.8" y2="294" stroke="#3a3a3a" stroke-width="0.9"/>
<text x="240.8" y="296" font-size="5.4" text-anchor="end" fill="#111">80</text>
<line x1="241" y1="284" x2="242.8" y2="284" stroke="#3a3a3a" stroke-width="0.9"/>
<text x="240.8" y="286" font-size="5.4" text-anchor="end" fill="#111">100</text>
<line x1="256.95" y1="299.9" x2="256.95" y2="316.4" stroke="#2a2a2a" stroke-width="1"/>
<line x1="256.95" y1="330.6" x2="256.95" y2="332.7" stroke="#2a2a2a" stroke-width="1"/>
<line x1="252.15" y1="299.9" x2="261.75" y2="299.9" stroke="#2a2a2a" stroke-width="1"/>
<line x1="252.15" y1="332.7" x2="261.75" y2="332.7" stroke="#2a2a2a" stroke-width="1"/>
<rect x="247.6" y="316.4" width="18.7" height="14.2" fill="url(#gpat)" stroke="#2a2a2a" stroke-width="1.25"/>
<line x1="247.6" y1="325.6" x2="266.3" y2="325.6" stroke="#2a2a2a" stroke-width="1.4"/>
<line x1="256.95" y1="334" x2="256.95" y2="335.5" stroke="#3a3a3a" stroke-width="0.8"/>
<line x1="284.7" y1="302.5" x2="284.7" y2="312.6" stroke="#2a2a2a" stroke-width="1"/>
<line x1="284.7" y1="326.5" x2="284.7" y2="330.8" stroke="#2a2a2a" stroke-width="1"/>
<line x1="279.9" y1="302.5" x2="289.5" y2="302.5" stroke="#2a2a2a" stroke-width="1"/>
<line x1="279.9" y1="330.8" x2="289.5" y2="330.8" stroke="#2a2a2a" stroke-width="1"/>
<rect x="275.3" y="312.6" width="18.8" height="13.9" fill="#fff" stroke="#2a2a2a" stroke-width="1.25"/>
<line x1="275.3" y1="319.1" x2="294.1" y2="319.1" stroke="#2a2a2a" stroke-width="1.4"/>
<line x1="284.7" y1="334" x2="284.7" y2="335.5" stroke="#3a3a3a" stroke-width="0.8"/>
<text x="256.95" y="341" font-size="5.1" text-anchor="middle" fill="#111">VitD-</text>
<text x="284.7" y="341" font-size="5.1" text-anchor="middle" fill="#111">VitD+</text>
<text x="270.8" y="272" font-size="6.5" text-anchor="middle" font-weight="bold">AA</text>
<text x="0" y="0" transform="translate(229.75 308) rotate(-90)" font-size="6" text-anchor="middle" font-weight="bold" textLength="62" lengthAdjust="spacingAndGlyphs">% Foxp3 expression</text>
<path d="M257.4 295.5 V293.3 H283.5 V295.5" fill="none" stroke="#444" stroke-width="0.8" stroke-linejoin="round"/>
<text x="269" y="287" font-size="4.7" text-anchor="middle" fill="#222" font-style="italic">p=0.049</text>
<text x="268.8" y="294" font-size="7.6" text-anchor="middle" font-weight="bold" fill="#111">*</text>
<line x1="322.6" y1="286.2" x2="322.6" y2="294" stroke="#3a3a3a" stroke-width="1.3"/>
<line x1="322.6" y1="296.7" x2="322.6" y2="334.8" stroke="#3a3a3a" stroke-width="1.3"/>
<line x1="322" y1="334.2" x2="378" y2="334.2" stroke="#3a3a3a" stroke-width="1.3"/>
<line x1="320.8" y1="334.2" x2="322.6" y2="334.2" stroke="#3a3a3a" stroke-width="0.9"/>
<text x="320.6" y="336" font-size="5.4" text-anchor="end" fill="#111">0</text>
<line x1="320.8" y1="325.3" x2="322.6" y2="325.3" stroke="#3a3a3a" stroke-width="0.9"/>
<text x="320.6" y="327" font-size="5.4" text-anchor="end" fill="#111">200</text>
<line x1="320.8" y1="316" x2="322.6" y2="316" stroke="#3a3a3a" stroke-width="0.9"/>
<text x="320.6" y="318" font-size="5.4" text-anchor="end" fill="#111">400</text>
<line x1="320.8" y1="306.7" x2="322.6" y2="306.7" stroke="#3a3a3a" stroke-width="0.9"/>
<text x="320.6" y="309" font-size="5.4" text-anchor="end" fill="#111">600</text>
<line x1="320.8" y1="297.5" x2="322.6" y2="297.5" stroke="#3a3a3a" stroke-width="0.9"/>
<text x="320.6" y="299" font-size="5.4" text-anchor="end" fill="#111">800</text>
<line x1="320.8" y1="286.2" x2="322.6" y2="286.2" stroke="#3a3a3a" stroke-width="0.9"/>
<text x="320.6" y="288" font-size="5.4" text-anchor="end" fill="#111">1500</text>
<line x1="336.05" y1="324.5" x2="336.05" y2="326.9" stroke="#2a2a2a" stroke-width="1"/>
<line x1="336.05" y1="331.4" x2="336.05" y2="333.5" stroke="#2a2a2a" stroke-width="1"/>
<line x1="331.25" y1="324.5" x2="340.85" y2="324.5" stroke="#2a2a2a" stroke-width="1"/>
<line x1="331.25" y1="333.5" x2="340.85" y2="333.5" stroke="#2a2a2a" stroke-width="1"/>
<rect x="326.7" y="326.9" width="18.7" height="4.5" fill="url(#gpat)" stroke="#2a2a2a" stroke-width="1.25"/>
<line x1="326.7" y1="329" x2="345.4" y2="329" stroke="#2a2a2a" stroke-width="1.4"/>
<line x1="336.05" y1="334.2" x2="336.05" y2="335.7" stroke="#3a3a3a" stroke-width="0.8"/>
<line x1="364.15" y1="311.5" x2="364.15" y2="322.6" stroke="#2a2a2a" stroke-width="1"/>
<line x1="364.15" y1="330.6" x2="364.15" y2="332.4" stroke="#2a2a2a" stroke-width="1"/>
<line x1="359.35" y1="311.5" x2="368.95" y2="311.5" stroke="#2a2a2a" stroke-width="1"/>
<line x1="359.35" y1="332.4" x2="368.95" y2="332.4" stroke="#2a2a2a" stroke-width="1"/>
<rect x="354.7" y="322.6" width="18.9" height="8" fill="#fff" stroke="#2a2a2a" stroke-width="1.25"/>
<line x1="354.7" y1="326.7" x2="373.6" y2="326.7" stroke="#2a2a2a" stroke-width="1.4"/>
<line x1="364.15" y1="334.2" x2="364.15" y2="335.7" stroke="#3a3a3a" stroke-width="0.8"/>
<text x="336.05" y="341" font-size="5.1" text-anchor="middle" fill="#111">VitD-</text>
<text x="364.15" y="341" font-size="5.1" text-anchor="middle" fill="#111">VitD+</text>
<text x="349.9" y="275" font-size="6.5" text-anchor="middle" font-weight="bold">AA</text>
<text x="0" y="0" transform="translate(306.95 308.5) rotate(-90)" font-size="6" text-anchor="middle" font-weight="bold" textLength="31" lengthAdjust="spacingAndGlyphs">Foxp3 MFI</text>
<path d="M336.3 306.7 V304.5 H364.3 V306.7" fill="none" stroke="#444" stroke-width="0.8" stroke-linejoin="round"/>
<text x="349.2" y="298" font-size="4.7" text-anchor="middle" fill="#222" font-style="italic">p=0.0015</text>
<text x="351.3" y="305" font-size="7.6" text-anchor="middle" font-weight="bold" fill="#111">**</text>
<line x1="468.5" y1="285.8" x2="468.5" y2="334.1" stroke="#3a3a3a" stroke-width="1.3"/>
<line x1="467.9" y1="333.5" x2="522.5" y2="333.5" stroke="#3a3a3a" stroke-width="1.3"/>
<line x1="466.7" y1="333.5" x2="468.5" y2="333.5" stroke="#3a3a3a" stroke-width="0.9"/>
<text x="466.5" y="335" font-size="5.4" text-anchor="end" fill="#111">0</text>
<line x1="466.7" y1="323.96" x2="468.5" y2="323.96" stroke="#3a3a3a" stroke-width="0.9"/>
<text x="466.5" y="326" font-size="5.4" text-anchor="end" fill="#111">20</text>
<line x1="466.7" y1="314.42" x2="468.5" y2="314.42" stroke="#3a3a3a" stroke-width="0.9"/>
<text x="466.5" y="316" font-size="5.4" text-anchor="end" fill="#111">40</text>
<line x1="466.7" y1="304.88" x2="468.5" y2="304.88" stroke="#3a3a3a" stroke-width="0.9"/>
<text x="466.5" y="307" font-size="5.4" text-anchor="end" fill="#111">60</text>
<line x1="466.7" y1="295.34" x2="468.5" y2="295.34" stroke="#3a3a3a" stroke-width="0.9"/>
<text x="466.5" y="297" font-size="5.4" text-anchor="end" fill="#111">80</text>
<line x1="466.7" y1="285.8" x2="468.5" y2="285.8" stroke="#3a3a3a" stroke-width="0.9"/>
<text x="466.5" y="288" font-size="5.4" text-anchor="end" fill="#111">100</text>
<line x1="482.5" y1="315.3" x2="482.5" y2="317" stroke="#2a2a2a" stroke-width="1"/>
<line x1="482.5" y1="325.8" x2="482.5" y2="330.4" stroke="#2a2a2a" stroke-width="1"/>
<line x1="477.7" y1="315.3" x2="487.3" y2="315.3" stroke="#2a2a2a" stroke-width="1"/>
<line x1="477.7" y1="330.4" x2="487.3" y2="330.4" stroke="#2a2a2a" stroke-width="1"/>
<rect x="473.3" y="317" width="18.4" height="8.8" fill="url(#gpat)" stroke="#2a2a2a" stroke-width="1.25"/>
<line x1="473.3" y1="322.8" x2="491.7" y2="322.8" stroke="#2a2a2a" stroke-width="1.4"/>
<line x1="482.5" y1="333.5" x2="482.5" y2="335" stroke="#3a3a3a" stroke-width="0.8"/>
<line x1="509.5" y1="302.6" x2="509.5" y2="312.2" stroke="#2a2a2a" stroke-width="1"/>
<line x1="509.5" y1="319.1" x2="509.5" y2="321.9" stroke="#2a2a2a" stroke-width="1"/>
<line x1="504.7" y1="302.6" x2="514.3" y2="302.6" stroke="#2a2a2a" stroke-width="1"/>
<line x1="504.7" y1="321.9" x2="514.3" y2="321.9" stroke="#2a2a2a" stroke-width="1"/>
<rect x="500.3" y="312.2" width="18.4" height="6.9" fill="#fff" stroke="#2a2a2a" stroke-width="1.25"/>
<line x1="500.3" y1="313.9" x2="518.7" y2="313.9" stroke="#2a2a2a" stroke-width="1.4"/>
<line x1="509.5" y1="333.5" x2="509.5" y2="335" stroke="#3a3a3a" stroke-width="0.8"/>
<text x="482.5" y="341" font-size="5.1" text-anchor="middle" fill="#111">VitD-</text>
<text x="509.5" y="341" font-size="5.1" text-anchor="middle" fill="#111">VitD+</text>
<text x="496.2" y="275" font-size="6.5" text-anchor="middle" font-weight="bold">AA</text>
<text x="0" y="0" transform="translate(454.85 308.7) rotate(-90)" font-size="6" text-anchor="middle" font-weight="bold" textLength="61" lengthAdjust="spacingAndGlyphs">% CTLA4 expression</text>
<path d="M483.2 299.9 V297.7 H508.8 V299.9" fill="none" stroke="#444" stroke-width="0.8" stroke-linejoin="round"/>
<text x="495.8" y="292" font-size="4.7" text-anchor="middle" fill="#222" font-style="italic">p=0.0019</text>
<text x="495.8" y="299" font-size="7.6" text-anchor="middle" font-weight="bold" fill="#111">**</text>
<line x1="548.3" y1="284" x2="548.3" y2="334.8" stroke="#3a3a3a" stroke-width="1.3"/>
<line x1="547.7" y1="334.2" x2="606.4" y2="334.2" stroke="#3a3a3a" stroke-width="1.3"/>
<line x1="546.5" y1="334.2" x2="548.3" y2="334.2" stroke="#3a3a3a" stroke-width="0.9"/>
<text x="546.3" y="336" font-size="5.4" text-anchor="end" fill="#111">0</text>
<line x1="546.5" y1="321.65" x2="548.3" y2="321.65" stroke="#3a3a3a" stroke-width="0.9"/>
<text x="546.3" y="324" font-size="5.4" text-anchor="end" fill="#111">50</text>
<line x1="546.5" y1="309.1" x2="548.3" y2="309.1" stroke="#3a3a3a" stroke-width="0.9"/>
<text x="546.3" y="311" font-size="5.4" text-anchor="end" fill="#111">100</text>
<line x1="546.5" y1="296.55" x2="548.3" y2="296.55" stroke="#3a3a3a" stroke-width="0.9"/>
<text x="546.3" y="298" font-size="5.4" text-anchor="end" fill="#111">150</text>
<line x1="546.5" y1="284" x2="548.3" y2="284" stroke="#3a3a3a" stroke-width="0.9"/>
<text x="546.3" y="286" font-size="5.4" text-anchor="end" fill="#111">200</text>
<line x1="562.8" y1="308.5" x2="562.8" y2="313.9" stroke="#2a2a2a" stroke-width="1"/>
<line x1="562.8" y1="326.7" x2="562.8" y2="329" stroke="#2a2a2a" stroke-width="1"/>
<line x1="558" y1="308.5" x2="567.6" y2="308.5" stroke="#2a2a2a" stroke-width="1"/>
<line x1="558" y1="329" x2="567.6" y2="329" stroke="#2a2a2a" stroke-width="1"/>
<rect x="553" y="313.9" width="19.6" height="12.8" fill="url(#gpat)" stroke="#2a2a2a" stroke-width="1.25"/>
<line x1="553" y1="322.6" x2="572.6" y2="322.6" stroke="#2a2a2a" stroke-width="1.4"/>
<line x1="562.8" y1="334.2" x2="562.8" y2="335.7" stroke="#3a3a3a" stroke-width="0.8"/>
<line x1="591.9" y1="293.5" x2="591.9" y2="307.5" stroke="#2a2a2a" stroke-width="1"/>
<line x1="591.9" y1="323.2" x2="591.9" y2="328.6" stroke="#2a2a2a" stroke-width="1"/>
<line x1="587.1" y1="293.5" x2="596.7" y2="293.5" stroke="#2a2a2a" stroke-width="1"/>
<line x1="587.1" y1="328.6" x2="596.7" y2="328.6" stroke="#2a2a2a" stroke-width="1"/>
<rect x="582.5" y="307.5" width="18.8" height="15.7" fill="#fff" stroke="#2a2a2a" stroke-width="1.25"/>
<line x1="582.5" y1="319.1" x2="601.3" y2="319.1" stroke="#2a2a2a" stroke-width="1.4"/>
<line x1="591.9" y1="334.2" x2="591.9" y2="335.7" stroke="#3a3a3a" stroke-width="0.8"/>
<text x="562.8" y="341" font-size="5.1" text-anchor="middle" fill="#111">VitD-</text>
<text x="591.9" y="341" font-size="5.1" text-anchor="middle" fill="#111">VitD+</text>
<text x="577" y="272" font-size="6.5" text-anchor="middle" font-weight="bold">AA</text>
<text x="0" y="0" transform="translate(533.75 309) rotate(-90)" font-size="6" text-anchor="middle" font-weight="bold" textLength="33" lengthAdjust="spacingAndGlyphs">CTLA4 MFI</text>
<path d="M562.6 288.7 V286.5 H592 V288.7" fill="none" stroke="#444" stroke-width="0.8" stroke-linejoin="round"/>
<text x="574.9" y="280" font-size="4.7" text-anchor="middle" fill="#222" font-style="italic">p=0.014</text>
<text x="576.7" y="287" font-size="7.6" text-anchor="middle" font-weight="bold" fill="#111">*</text>
<line x1="23" y1="377.8" x2="23" y2="429.9" stroke="#3a3a3a" stroke-width="1.3"/>
<line x1="22.4" y1="429.3" x2="82" y2="429.3" stroke="#3a3a3a" stroke-width="1.3"/>
<line x1="21.2" y1="429.3" x2="23" y2="429.3" stroke="#3a3a3a" stroke-width="0.9"/>
<text x="21" y="431" font-size="5.4" text-anchor="end" fill="#111">0</text>
<line x1="21.2" y1="419" x2="23" y2="419" stroke="#3a3a3a" stroke-width="0.9"/>
<text x="21" y="421" font-size="5.4" text-anchor="end" fill="#111">20</text>
<line x1="21.2" y1="408.7" x2="23" y2="408.7" stroke="#3a3a3a" stroke-width="0.9"/>
<text x="21" y="411" font-size="5.4" text-anchor="end" fill="#111">40</text>
<line x1="21.2" y1="398.4" x2="23" y2="398.4" stroke="#3a3a3a" stroke-width="0.9"/>
<text x="21" y="400" font-size="5.4" text-anchor="end" fill="#111">60</text>
<line x1="21.2" y1="388.1" x2="23" y2="388.1" stroke="#3a3a3a" stroke-width="0.9"/>
<text x="21" y="390" font-size="5.4" text-anchor="end" fill="#111">80</text>
<line x1="21.2" y1="377.8" x2="23" y2="377.8" stroke="#3a3a3a" stroke-width="0.9"/>
<text x="21" y="380" font-size="5.4" text-anchor="end" fill="#111">100</text>
<line x1="38.65" y1="385.4" x2="38.65" y2="387.4" stroke="#2a2a2a" stroke-width="1"/>
<line x1="38.65" y1="406.4" x2="38.65" y2="412.2" stroke="#2a2a2a" stroke-width="1"/>
<line x1="33.85" y1="385.4" x2="43.45" y2="385.4" stroke="#2a2a2a" stroke-width="1"/>
<line x1="33.85" y1="412.2" x2="43.45" y2="412.2" stroke="#2a2a2a" stroke-width="1"/>
<rect x="28.7" y="387.4" width="19.9" height="19" fill="url(#gpat)" stroke="#2a2a2a" stroke-width="1.25"/>
<line x1="28.7" y1="394.8" x2="48.6" y2="394.8" stroke="#2a2a2a" stroke-width="1.4"/>
<line x1="38.65" y1="429.3" x2="38.65" y2="430.8" stroke="#3a3a3a" stroke-width="0.8"/>
<line x1="68.15" y1="388.6" x2="68.15" y2="390.7" stroke="#2a2a2a" stroke-width="1"/>
<line x1="68.15" y1="404.3" x2="68.15" y2="411.1" stroke="#2a2a2a" stroke-width="1"/>
<line x1="63.35" y1="388.6" x2="72.95" y2="388.6" stroke="#2a2a2a" stroke-width="1"/>
<line x1="63.35" y1="411.1" x2="72.95" y2="411.1" stroke="#2a2a2a" stroke-width="1"/>
<rect x="58.1" y="390.7" width="20.1" height="13.6" fill="#fff" stroke="#2a2a2a" stroke-width="1.25"/>
<line x1="58.1" y1="394.8" x2="78.2" y2="394.8" stroke="#2a2a2a" stroke-width="1.4"/>
<line x1="68.15" y1="429.3" x2="68.15" y2="430.8" stroke="#3a3a3a" stroke-width="0.8"/>
<text x="38.65" y="437" font-size="5.1" text-anchor="middle" fill="#111">VitD-</text>
<text x="68.15" y="437" font-size="5.1" text-anchor="middle" fill="#111">VitD+</text>
<text x="53.4" y="364" font-size="6.5" text-anchor="middle" font-weight="bold">AG</text>
<text x="0" y="0" transform="translate(7.55 403.2) rotate(-90)" font-size="6" text-anchor="middle" font-weight="bold" textLength="63" lengthAdjust="spacingAndGlyphs">% CD25 expression</text>
<line x1="104.4" y1="379.9" x2="104.4" y2="431.3" stroke="#3a3a3a" stroke-width="1.3"/>
<line x1="103.8" y1="430.7" x2="162.8" y2="430.7" stroke="#3a3a3a" stroke-width="1.3"/>
<line x1="102.6" y1="430.7" x2="104.4" y2="430.7" stroke="#3a3a3a" stroke-width="0.9"/>
<text x="102.4" y="433" font-size="5.4" text-anchor="end" fill="#111">0</text>
<line x1="102.6" y1="418" x2="104.4" y2="418" stroke="#3a3a3a" stroke-width="0.9"/>
<text x="102.4" y="420" font-size="5.4" text-anchor="end" fill="#111">200</text>
<line x1="102.6" y1="405.3" x2="104.4" y2="405.3" stroke="#3a3a3a" stroke-width="0.9"/>
<text x="102.4" y="407" font-size="5.4" text-anchor="end" fill="#111">400</text>
<line x1="102.6" y1="392.6" x2="104.4" y2="392.6" stroke="#3a3a3a" stroke-width="0.9"/>
<text x="102.4" y="395" font-size="5.4" text-anchor="end" fill="#111">600</text>
<line x1="102.6" y1="379.9" x2="104.4" y2="379.9" stroke="#3a3a3a" stroke-width="0.9"/>
<text x="102.4" y="382" font-size="5.4" text-anchor="end" fill="#111">800</text>
<line x1="118.9" y1="406.8" x2="118.9" y2="412.5" stroke="#2a2a2a" stroke-width="1"/>
<line x1="118.9" y1="428.5" x2="118.9" y2="429.3" stroke="#2a2a2a" stroke-width="1"/>
<line x1="114.1" y1="406.8" x2="123.7" y2="406.8" stroke="#2a2a2a" stroke-width="1"/>
<line x1="114.1" y1="429.3" x2="123.7" y2="429.3" stroke="#2a2a2a" stroke-width="1"/>
<rect x="109" y="412.5" width="19.8" height="16" fill="url(#gpat)" stroke="#2a2a2a" stroke-width="1.25"/>
<line x1="109" y1="424.4" x2="128.8" y2="424.4" stroke="#2a2a2a" stroke-width="1.4"/>
<line x1="118.9" y1="430.7" x2="118.9" y2="432.2" stroke="#3a3a3a" stroke-width="0.8"/>
<line x1="148.05" y1="400.7" x2="148.05" y2="410.5" stroke="#2a2a2a" stroke-width="1"/>
<line x1="148.05" y1="426.6" x2="148.05" y2="428.5" stroke="#2a2a2a" stroke-width="1"/>
<line x1="143.25" y1="400.7" x2="152.85" y2="400.7" stroke="#2a2a2a" stroke-width="1"/>
<line x1="143.25" y1="428.5" x2="152.85" y2="428.5" stroke="#2a2a2a" stroke-width="1"/>
<rect x="138.1" y="410.5" width="19.9" height="16.1" fill="#fff" stroke="#2a2a2a" stroke-width="1.25"/>
<line x1="138.1" y1="422.5" x2="158" y2="422.5" stroke="#2a2a2a" stroke-width="1.4"/>
<line x1="148.05" y1="430.7" x2="148.05" y2="432.2" stroke="#3a3a3a" stroke-width="0.8"/>
<text x="118.9" y="437" font-size="5.1" text-anchor="middle" fill="#111">VitD-</text>
<text x="148.05" y="437" font-size="5.1" text-anchor="middle" fill="#111">VitD+</text>
<text x="133.4" y="367" font-size="6.5" text-anchor="middle" font-weight="bold">AG</text>
<text x="0" y="0" transform="translate(89.65 404) rotate(-90)" font-size="6" text-anchor="middle" font-weight="bold" textLength="29" lengthAdjust="spacingAndGlyphs">CD25 MFI</text>
<line x1="245.8" y1="377.8" x2="245.8" y2="430.5" stroke="#3a3a3a" stroke-width="1.3"/>
<line x1="245.2" y1="429.9" x2="305" y2="429.9" stroke="#3a3a3a" stroke-width="1.3"/>
<line x1="244" y1="429.9" x2="245.8" y2="429.9" stroke="#3a3a3a" stroke-width="0.9"/>
<text x="243.8" y="432" font-size="5.4" text-anchor="end" fill="#111">0</text>
<line x1="244" y1="419.48" x2="245.8" y2="419.48" stroke="#3a3a3a" stroke-width="0.9"/>
<text x="243.8" y="421" font-size="5.4" text-anchor="end" fill="#111">20</text>
<line x1="244" y1="409.06" x2="245.8" y2="409.06" stroke="#3a3a3a" stroke-width="0.9"/>
<text x="243.8" y="411" font-size="5.4" text-anchor="end" fill="#111">40</text>
<line x1="244" y1="398.64" x2="245.8" y2="398.64" stroke="#3a3a3a" stroke-width="0.9"/>
<text x="243.8" y="401" font-size="5.4" text-anchor="end" fill="#111">60</text>
<line x1="244" y1="388.22" x2="245.8" y2="388.22" stroke="#3a3a3a" stroke-width="0.9"/>
<text x="243.8" y="390" font-size="5.4" text-anchor="end" fill="#111">80</text>
<line x1="244" y1="377.8" x2="245.8" y2="377.8" stroke="#3a3a3a" stroke-width="0.9"/>
<text x="243.8" y="380" font-size="5.4" text-anchor="end" fill="#111">100</text>
<line x1="260.9" y1="404.3" x2="260.9" y2="415.3" stroke="#2a2a2a" stroke-width="1"/>
<line x1="260.9" y1="426.2" x2="260.9" y2="428.5" stroke="#2a2a2a" stroke-width="1"/>
<line x1="256.1" y1="404.3" x2="265.7" y2="404.3" stroke="#2a2a2a" stroke-width="1"/>
<line x1="256.1" y1="428.5" x2="265.7" y2="428.5" stroke="#2a2a2a" stroke-width="1"/>
<rect x="251" y="415.3" width="19.8" height="10.9" fill="url(#gpat)" stroke="#2a2a2a" stroke-width="1.25"/>
<line x1="251" y1="424.8" x2="270.8" y2="424.8" stroke="#2a2a2a" stroke-width="1.4"/>
<line x1="260.9" y1="429.9" x2="260.9" y2="431.4" stroke="#3a3a3a" stroke-width="0.8"/>
<line x1="290.45" y1="403.3" x2="290.45" y2="410.5" stroke="#2a2a2a" stroke-width="1"/>
<line x1="290.45" y1="425.2" x2="290.45" y2="427.2" stroke="#2a2a2a" stroke-width="1"/>
<line x1="285.65" y1="403.3" x2="295.25" y2="403.3" stroke="#2a2a2a" stroke-width="1"/>
<line x1="285.65" y1="427.2" x2="295.25" y2="427.2" stroke="#2a2a2a" stroke-width="1"/>
<rect x="280.4" y="410.5" width="20.1" height="14.7" fill="#fff" stroke="#2a2a2a" stroke-width="1.25"/>
<line x1="280.4" y1="418.4" x2="300.5" y2="418.4" stroke="#2a2a2a" stroke-width="1.4"/>
<line x1="290.45" y1="429.9" x2="290.45" y2="431.4" stroke="#3a3a3a" stroke-width="0.8"/>
<text x="260.9" y="437" font-size="5.1" text-anchor="middle" fill="#111">VitD-</text>
<text x="290.45" y="437" font-size="5.1" text-anchor="middle" fill="#111">VitD+</text>
<text x="275.6" y="363" font-size="6.5" text-anchor="middle" font-weight="bold">AG</text>
<text x="0" y="0" transform="translate(230.65 402.3) rotate(-90)" font-size="6" text-anchor="middle" font-weight="bold" textLength="64.8" lengthAdjust="spacingAndGlyphs">% Foxp3 expression</text>
<path d="M261.3 384.4 V382.2 H289.6 V384.4" fill="none" stroke="#444" stroke-width="0.8" stroke-linejoin="round"/>
<text x="274" y="376" font-size="4.7" text-anchor="middle" fill="#222" font-style="italic">p=0.077</text>
<text x="274.9" y="380" font-size="4.7" text-anchor="middle" fill="#222">ns</text>
<line x1="331.7" y1="377.8" x2="331.7" y2="384.7" stroke="#3a3a3a" stroke-width="1.3"/>
<line x1="331.7" y1="388" x2="331.7" y2="430.6" stroke="#3a3a3a" stroke-width="1.3"/>
<line x1="331.1" y1="430" x2="389.6" y2="430" stroke="#3a3a3a" stroke-width="1.3"/>
<line x1="329.9" y1="430" x2="331.7" y2="430" stroke="#3a3a3a" stroke-width="0.9"/>
<text x="329.7" y="432" font-size="5.4" text-anchor="end" fill="#111">0</text>
<line x1="329.9" y1="420.5" x2="331.7" y2="420.5" stroke="#3a3a3a" stroke-width="0.9"/>
<text x="329.7" y="422" font-size="5.4" text-anchor="end" fill="#111">200</text>
<line x1="329.9" y1="410.7" x2="331.7" y2="410.7" stroke="#3a3a3a" stroke-width="0.9"/>
<text x="329.7" y="413" font-size="5.4" text-anchor="end" fill="#111">400</text>
<line x1="329.9" y1="400.7" x2="331.7" y2="400.7" stroke="#3a3a3a" stroke-width="0.9"/>
<text x="329.7" y="403" font-size="5.4" text-anchor="end" fill="#111">600</text>
<line x1="329.9" y1="390.7" x2="331.7" y2="390.7" stroke="#3a3a3a" stroke-width="0.9"/>
<text x="329.7" y="393" font-size="5.4" text-anchor="end" fill="#111">800</text>
<line x1="329.9" y1="377.8" x2="331.7" y2="377.8" stroke="#3a3a3a" stroke-width="0.9"/>
<text x="329.7" y="380" font-size="5.4" text-anchor="end" fill="#111">1500</text>
<line x1="346.55" y1="415.3" x2="346.55" y2="422.5" stroke="#2a2a2a" stroke-width="1"/>
<line x1="346.55" y1="427.6" x2="346.55" y2="428.5" stroke="#2a2a2a" stroke-width="1"/>
<line x1="341.75" y1="415.3" x2="351.35" y2="415.3" stroke="#2a2a2a" stroke-width="1"/>
<line x1="341.75" y1="428.5" x2="351.35" y2="428.5" stroke="#2a2a2a" stroke-width="1"/>
<rect x="336.3" y="422.5" width="20.5" height="5.1" fill="url(#gpat)" stroke="#2a2a2a" stroke-width="1.25"/>
<line x1="336.3" y1="426.5" x2="356.8" y2="426.5" stroke="#2a2a2a" stroke-width="1.4"/>
<line x1="346.55" y1="430" x2="346.55" y2="431.5" stroke="#3a3a3a" stroke-width="0.8"/>
<line x1="376.6" y1="400.9" x2="376.6" y2="416.6" stroke="#2a2a2a" stroke-width="1"/>
<line x1="376.6" y1="427.6" x2="376.6" y2="428.5" stroke="#2a2a2a" stroke-width="1"/>
<line x1="371.8" y1="400.9" x2="381.4" y2="400.9" stroke="#2a2a2a" stroke-width="1"/>
<line x1="371.8" y1="428.5" x2="381.4" y2="428.5" stroke="#2a2a2a" stroke-width="1"/>
<rect x="366.3" y="416.6" width="20.6" height="11" fill="#fff" stroke="#2a2a2a" stroke-width="1.25"/>
<line x1="366.3" y1="426.6" x2="386.9" y2="426.6" stroke="#2a2a2a" stroke-width="1.4"/>
<line x1="376.6" y1="430" x2="376.6" y2="431.5" stroke="#3a3a3a" stroke-width="0.8"/>
<text x="346.55" y="437" font-size="5.1" text-anchor="middle" fill="#111">VitD-</text>
<text x="376.6" y="437" font-size="5.1" text-anchor="middle" fill="#111">VitD+</text>
<text x="361.6" y="365" font-size="6.5" text-anchor="middle" font-weight="bold">AG</text>
<text x="0" y="0" transform="translate(314.95 402.6) rotate(-90)" font-size="6" text-anchor="middle" font-weight="bold" textLength="32" lengthAdjust="spacingAndGlyphs">Foxp3 MFI</text>
<path d="M346.5 386.9 V384.7 H375.9 V386.9" fill="none" stroke="#444" stroke-width="0.8" stroke-linejoin="round"/>
<text x="360.2" y="379" font-size="4.7" text-anchor="middle" fill="#222" font-style="italic">p=0.0007</text>
<text x="362.2" y="385" font-size="7.6" text-anchor="middle" font-weight="bold" fill="#111">***</text>
<line x1="467.5" y1="378.1" x2="467.5" y2="430.6" stroke="#3a3a3a" stroke-width="1.3"/>
<line x1="466.9" y1="430" x2="525.9" y2="430" stroke="#3a3a3a" stroke-width="1.3"/>
<line x1="465.7" y1="430" x2="467.5" y2="430" stroke="#3a3a3a" stroke-width="0.9"/>
<text x="465.5" y="432" font-size="5.4" text-anchor="end" fill="#111">0</text>
<line x1="465.7" y1="419.62" x2="467.5" y2="419.62" stroke="#3a3a3a" stroke-width="0.9"/>
<text x="465.5" y="422" font-size="5.4" text-anchor="end" fill="#111">20</text>
<line x1="465.7" y1="409.24" x2="467.5" y2="409.24" stroke="#3a3a3a" stroke-width="0.9"/>
<text x="465.5" y="411" font-size="5.4" text-anchor="end" fill="#111">40</text>
<line x1="465.7" y1="398.86" x2="467.5" y2="398.86" stroke="#3a3a3a" stroke-width="0.9"/>
<text x="465.5" y="401" font-size="5.4" text-anchor="end" fill="#111">60</text>
<line x1="465.7" y1="388.48" x2="467.5" y2="388.48" stroke="#3a3a3a" stroke-width="0.9"/>
<text x="465.5" y="390" font-size="5.4" text-anchor="end" fill="#111">80</text>
<line x1="465.7" y1="378.1" x2="467.5" y2="378.1" stroke="#3a3a3a" stroke-width="0.9"/>
<text x="465.5" y="380" font-size="5.4" text-anchor="end" fill="#111">100</text>
<line x1="483.4" y1="414.3" x2="483.4" y2="415.7" stroke="#2a2a2a" stroke-width="1"/>
<line x1="483.4" y1="423.9" x2="483.4" y2="426.6" stroke="#2a2a2a" stroke-width="1"/>
<line x1="478.6" y1="414.3" x2="488.2" y2="414.3" stroke="#2a2a2a" stroke-width="1"/>
<line x1="478.6" y1="426.6" x2="488.2" y2="426.6" stroke="#2a2a2a" stroke-width="1"/>
<rect x="473.3" y="415.7" width="20.2" height="8.2" fill="url(#gpat)" stroke="#2a2a2a" stroke-width="1.25"/>
<line x1="473.3" y1="419.8" x2="493.5" y2="419.8" stroke="#2a2a2a" stroke-width="1.4"/>
<line x1="483.4" y1="430" x2="483.4" y2="431.5" stroke="#3a3a3a" stroke-width="0.8"/>
<line x1="513.5" y1="398.9" x2="513.5" y2="404.3" stroke="#2a2a2a" stroke-width="1"/>
<line x1="513.5" y1="419.1" x2="513.5" y2="419.8" stroke="#2a2a2a" stroke-width="1"/>
<line x1="508.7" y1="398.9" x2="518.3" y2="398.9" stroke="#2a2a2a" stroke-width="1"/>
<line x1="508.7" y1="419.8" x2="518.3" y2="419.8" stroke="#2a2a2a" stroke-width="1"/>
<rect x="503.4" y="404.3" width="20.2" height="14.8" fill="#fff" stroke="#2a2a2a" stroke-width="1.25"/>
<line x1="503.4" y1="413.5" x2="523.6" y2="413.5" stroke="#2a2a2a" stroke-width="1.4"/>
<line x1="513.5" y1="430" x2="513.5" y2="431.5" stroke="#3a3a3a" stroke-width="0.8"/>
<text x="483.4" y="437" font-size="5.1" text-anchor="middle" fill="#111">VitD-</text>
<text x="513.5" y="437" font-size="5.1" text-anchor="middle" fill="#111">VitD+</text>
<text x="498.6" y="366" font-size="6.5" text-anchor="middle" font-weight="bold">AG</text>
<text x="0" y="0" transform="translate(453.15 401.9) rotate(-90)" font-size="6" text-anchor="middle" font-weight="bold" textLength="67" lengthAdjust="spacingAndGlyphs">% CTLA4 expression</text>
<path d="M484.2 393.4 V391.2 H512.2 V393.4" fill="none" stroke="#444" stroke-width="0.8" stroke-linejoin="round"/>
<text x="497.9" y="384" font-size="4.7" text-anchor="middle" fill="#222" font-style="italic">p=0.0003</text>
<text x="499.5" y="392" font-size="7.6" text-anchor="middle" font-weight="bold" fill="#111">***</text>
<line x1="550.3" y1="377.9" x2="550.3" y2="430.9" stroke="#3a3a3a" stroke-width="1.3"/>
<line x1="549.7" y1="430.3" x2="611.2" y2="430.3" stroke="#3a3a3a" stroke-width="1.3"/>
<line x1="548.5" y1="430.3" x2="550.3" y2="430.3" stroke="#3a3a3a" stroke-width="0.9"/>
<text x="548.3" y="432" font-size="5.4" text-anchor="end" fill="#111">0</text>
<line x1="548.5" y1="417.2" x2="550.3" y2="417.2" stroke="#3a3a3a" stroke-width="0.9"/>
<text x="548.3" y="419" font-size="5.4" text-anchor="end" fill="#111">50</text>
<line x1="548.5" y1="404.1" x2="550.3" y2="404.1" stroke="#3a3a3a" stroke-width="0.9"/>
<text x="548.3" y="406" font-size="5.4" text-anchor="end" fill="#111">100</text>
<line x1="548.5" y1="391" x2="550.3" y2="391" stroke="#3a3a3a" stroke-width="0.9"/>
<text x="548.3" y="393" font-size="5.4" text-anchor="end" fill="#111">150</text>
<line x1="548.5" y1="377.9" x2="550.3" y2="377.9" stroke="#3a3a3a" stroke-width="0.9"/>
<text x="548.3" y="380" font-size="5.4" text-anchor="end" fill="#111">200</text>
<line x1="566.05" y1="407" x2="566.05" y2="413.2" stroke="#2a2a2a" stroke-width="1"/>
<line x1="566.05" y1="421.4" x2="566.05" y2="424.8" stroke="#2a2a2a" stroke-width="1"/>
<line x1="561.25" y1="407" x2="570.85" y2="407" stroke="#2a2a2a" stroke-width="1"/>
<line x1="561.25" y1="424.8" x2="570.85" y2="424.8" stroke="#2a2a2a" stroke-width="1"/>
<rect x="555.8" y="413.2" width="20.5" height="8.2" fill="url(#gpat)" stroke="#2a2a2a" stroke-width="1.25"/>
<line x1="555.8" y1="419.4" x2="576.3" y2="419.4" stroke="#2a2a2a" stroke-width="1.4"/>
<line x1="566.05" y1="430.3" x2="566.05" y2="431.8" stroke="#3a3a3a" stroke-width="0.8"/>
<line x1="596.7" y1="393" x2="596.7" y2="407.5" stroke="#2a2a2a" stroke-width="1"/>
<line x1="596.7" y1="420" x2="596.7" y2="424.8" stroke="#2a2a2a" stroke-width="1"/>
<line x1="591.9" y1="393" x2="601.5" y2="393" stroke="#2a2a2a" stroke-width="1"/>
<line x1="591.9" y1="424.8" x2="601.5" y2="424.8" stroke="#2a2a2a" stroke-width="1"/>
<rect x="586.6" y="407.5" width="20.2" height="12.5" fill="#fff" stroke="#2a2a2a" stroke-width="1.25"/>
<line x1="586.6" y1="415.9" x2="606.8" y2="415.9" stroke="#2a2a2a" stroke-width="1.4"/>
<line x1="596.7" y1="430.3" x2="596.7" y2="431.8" stroke="#3a3a3a" stroke-width="0.8"/>
<text x="566.05" y="437" font-size="5.1" text-anchor="middle" fill="#111">VitD-</text>
<text x="596.7" y="437" font-size="5.1" text-anchor="middle" fill="#111">VitD+</text>
<text x="581.8" y="365" font-size="6.5" text-anchor="middle" font-weight="bold">AG</text>
<text x="0" y="0" transform="translate(535.35 402.6) rotate(-90)" font-size="6" text-anchor="middle" font-weight="bold" textLength="35" lengthAdjust="spacingAndGlyphs">CTLA4 MFI</text>
<path d="M565.8 386.9 V384.7 H596.4 V386.9" fill="none" stroke="#444" stroke-width="0.8" stroke-linejoin="round"/>
<text x="581.8" y="378" font-size="4.7" text-anchor="middle" fill="#222" font-style="italic">p=0.0017</text>
<text x="582.2" y="385" font-size="7.6" text-anchor="middle" font-weight="bold" fill="#111">**</text>
<path d="M168.3 174.1 H215.3 V221.6" fill="none" stroke="#c8c8c8" stroke-width="0.8" stroke-linejoin="round"/>
<text x="188.2" y="173" font-size="5.2" text-anchor="middle" font-weight="bold">GG</text>
<line x1="167.1" y1="221.3" x2="168.3" y2="221.3" stroke="#444" stroke-width="0.6"/>
<text x="166.8" y="223" font-size="3.5" text-anchor="end" fill="#333">0</text>
<line x1="167.1" y1="212.5" x2="168.3" y2="212.5" stroke="#444" stroke-width="0.6"/>
<text x="166.8" y="214" font-size="3.5" text-anchor="end" fill="#333">20</text>
<line x1="167.1" y1="203.7" x2="168.3" y2="203.7" stroke="#444" stroke-width="0.6"/>
<text x="166.8" y="205" font-size="3.5" text-anchor="end" fill="#333">40</text>
<line x1="167.1" y1="194.5" x2="168.3" y2="194.5" stroke="#444" stroke-width="0.6"/>
<text x="166.8" y="196" font-size="3.5" text-anchor="end" fill="#333">60</text>
<line x1="167.1" y1="185.4" x2="168.3" y2="185.4" stroke="#444" stroke-width="0.6"/>
<text x="166.8" y="187" font-size="3.5" text-anchor="end" fill="#333">80</text>
<line x1="167.1" y1="177.4" x2="168.3" y2="177.4" stroke="#444" stroke-width="0.6"/>
<text x="166.8" y="179" font-size="3.5" text-anchor="end" fill="#333">100</text>
<line x1="173.6" y1="221.6" x2="173.6" y2="222.8" stroke="#444" stroke-width="0.6"/>
<text x="173.6" y="227" font-size="3.5" text-anchor="middle" fill="#333">0</text>
<line x1="181.9" y1="221.6" x2="181.9" y2="222.8" stroke="#444" stroke-width="0.6"/>
<text x="181.9" y="227" font-size="3.5" text-anchor="middle" fill="#333">10<tspan dy="-1.3" font-size="2.6">1</tspan></text>
<line x1="193" y1="221.6" x2="193" y2="222.8" stroke="#444" stroke-width="0.6"/>
<text x="193" y="227" font-size="3.5" text-anchor="middle" fill="#333">10<tspan dy="-1.3" font-size="2.6">2</tspan></text>
<line x1="204.2" y1="221.6" x2="204.2" y2="222.8" stroke="#444" stroke-width="0.6"/>
<text x="204.2" y="227" font-size="3.5" text-anchor="middle" fill="#333">10<tspan dy="-1.3" font-size="2.6">3</tspan></text>
<text x="192.2" y="231" font-size="4.3" text-anchor="middle" font-weight="bold">CD25</text>
<text x="0" y="0" transform="translate(159.14 198.85) rotate(-90)" font-size="4.3" text-anchor="middle" font-weight="bold" textLength="18.5" lengthAdjust="spacingAndGlyphs">% of Max</text>
<path d="M168.5 221.2 C171.92 221.17 185.1 221.23 189 221 C192.9 220.77 190.9 220.77 191.9 219.8 C192.9 218.83 194.07 218.27 195 215.2 C195.93 212.13 196.87 205.8 197.5 201.4 C198.13 197 198.37 192.47 198.8 188.8 C199.23 185.13 199.75 181.27 200.1 179.4 C200.45 177.53 200.48 177.08 200.9 177.6 C201.32 178.12 202.02 178.95 202.6 182.5 C203.18 186.05 203.88 194.08 204.4 198.9 C204.92 203.72 205.27 207.98 205.7 211.4 C206.13 214.82 206.58 217.78 207 219.4 C207.42 221.02 206.87 220.78 208.2 221.1 C209.53 221.42 213.87 221.27 215 221.3" fill="none" stroke="#a8a8a8" stroke-width="0.8" stroke-linejoin="round"/>
<path d="M168.5 221 C172.25 220.97 186.78 220.93 191 220.8 C195.22 220.67 192.92 220.93 193.8 220.2 C194.68 219.47 195.57 218.5 196.3 216.4 C197.03 214.3 197.68 211.15 198.2 207.6 C198.72 204.05 199.05 198.87 199.4 195.1 C199.75 191.33 199.98 187.92 200.3 185 C200.62 182.08 200.92 177.6 201.3 177.6 C201.68 177.6 202.18 181.03 202.6 185 C203.02 188.97 203.38 196.78 203.8 201.4 C204.22 206.02 204.68 209.67 205.1 212.7 C205.52 215.73 205.88 218.22 206.3 219.6 C206.72 220.98 206.15 220.73 207.6 221 C209.05 221.27 213.77 221.17 215 221.2" fill="none" stroke="#111" stroke-width="1" stroke-linejoin="round"/>
<line x1="168.3" y1="174.1" x2="168.3" y2="222" stroke="#333" stroke-width="1"/>
<line x1="167.9" y1="221.6" x2="215.3" y2="221.6" stroke="#333" stroke-width="1"/>
<text x="189" y="191" font-size="3" text-anchor="middle" font-weight="bold" fill="#a8a8a8">VitD-</text>
<text x="208.8" y="186" font-size="3" text-anchor="middle" font-weight="bold" fill="#000">VitD+</text>
<path d="M394.4 174.9 H438 V218.9" fill="none" stroke="#c8c8c8" stroke-width="0.8" stroke-linejoin="round"/>
<text x="417.2" y="174" font-size="5.2" text-anchor="middle" font-weight="bold">GG</text>
<line x1="393.2" y1="218.7" x2="394.4" y2="218.7" stroke="#444" stroke-width="0.6"/>
<text x="392.9" y="220" font-size="3.5" text-anchor="end" fill="#333">0</text>
<line x1="393.2" y1="210.4" x2="394.4" y2="210.4" stroke="#444" stroke-width="0.6"/>
<text x="392.9" y="212" font-size="3.5" text-anchor="end" fill="#333">20</text>
<line x1="393.2" y1="202.1" x2="394.4" y2="202.1" stroke="#444" stroke-width="0.6"/>
<text x="392.9" y="204" font-size="3.5" text-anchor="end" fill="#333">40</text>
<line x1="393.2" y1="194" x2="394.4" y2="194" stroke="#444" stroke-width="0.6"/>
<text x="392.9" y="195" font-size="3.5" text-anchor="end" fill="#333">60</text>
<line x1="393.2" y1="185.7" x2="394.4" y2="185.7" stroke="#444" stroke-width="0.6"/>
<text x="392.9" y="187" font-size="3.5" text-anchor="end" fill="#333">80</text>
<line x1="393.2" y1="177.4" x2="394.4" y2="177.4" stroke="#444" stroke-width="0.6"/>
<text x="392.9" y="179" font-size="3.5" text-anchor="end" fill="#333">100</text>
<line x1="398.9" y1="218.9" x2="398.9" y2="220.1" stroke="#444" stroke-width="0.6"/>
<text x="398.9" y="225" font-size="3.5" text-anchor="middle" fill="#333">0</text>
<line x1="407.7" y1="218.9" x2="407.7" y2="220.1" stroke="#444" stroke-width="0.6"/>
<text x="407.7" y="225" font-size="3.5" text-anchor="middle" fill="#333">10<tspan dy="-1.3" font-size="2.6">1</tspan></text>
<line x1="419.3" y1="218.9" x2="419.3" y2="220.1" stroke="#444" stroke-width="0.6"/>
<text x="419.3" y="225" font-size="3.5" text-anchor="middle" fill="#333">10<tspan dy="-1.3" font-size="2.6">2</tspan></text>
<line x1="431.6" y1="218.9" x2="431.6" y2="220.1" stroke="#444" stroke-width="0.6"/>
<text x="431.6" y="225" font-size="3.5" text-anchor="middle" fill="#333">10<tspan dy="-1.3" font-size="2.6">3</tspan></text>
<text x="418" y="229" font-size="4.3" text-anchor="middle" font-weight="bold">Foxp3</text>
<text x="0" y="0" transform="translate(385.34 197.9) rotate(-90)" font-size="4.3" text-anchor="middle" font-weight="bold" textLength="18.5" lengthAdjust="spacingAndGlyphs">% of Max</text>
<path d="M394.6 218.5 C397.67 218.42 409.35 218.75 413 218 C416.65 217.25 415.5 217.33 416.5 214 C417.5 210.67 418.25 203 419 198 C419.75 193 420.42 187.17 421 184 C421.58 180.83 421.95 178.67 422.5 179 C423.05 179.33 423.77 183.12 424.3 186 C424.83 188.88 425.25 192.8 425.7 196.3 C426.15 199.8 426.38 204.65 427 207 C427.62 209.35 428.5 209.22 429.4 210.4 C430.3 211.58 431.38 212.92 432.4 214.1 C433.42 215.28 434.57 216.73 435.5 217.5 C436.43 218.27 437.58 218.5 438 218.7" fill="none" stroke="#a8a8a8" stroke-width="0.8" stroke-linejoin="round"/>
<path d="M394.6 218.3 C397.17 218.22 406.52 218.05 410 217.8 C413.48 217.55 414.2 217.68 415.5 216.8 C416.8 215.92 417.03 216.63 417.8 212.5 C418.57 208.37 419.47 197.25 420.1 192 C420.73 186.75 421.18 183.28 421.6 181 C422.02 178.72 422.17 177.8 422.6 178.3 C423.03 178.8 423.67 181.88 424.2 184 C424.73 186.12 425.12 190.33 425.8 191 C426.48 191.67 427.6 190 428.3 188 C429 186 429.6 180.73 430 179 C430.4 177.27 430.33 176.43 430.7 177.6 C431.07 178.77 431.7 182.47 432.2 186 C432.7 189.53 433.2 194.8 433.7 198.8 C434.2 202.8 434.75 206.97 435.2 210 C435.65 213.03 436 215.55 436.4 217 C436.8 218.45 437.4 218.42 437.6 218.7" fill="none" stroke="#111" stroke-width="1" stroke-linejoin="round"/>
<line x1="394.4" y1="174.9" x2="394.4" y2="219.3" stroke="#333" stroke-width="1"/>
<line x1="394" y1="218.9" x2="438" y2="218.9" stroke="#333" stroke-width="1"/>
<text x="413.2" y="196" font-size="3" text-anchor="middle" font-weight="bold" fill="#a8a8a8">VitD-</text>
<text x="414" y="182" font-size="3" text-anchor="middle" font-weight="bold" fill="#000">VitD+</text>
<path d="M621.3 176.2 H671.7 V226.4" fill="none" stroke="#c8c8c8" stroke-width="0.8" stroke-linejoin="round"/>
<text x="643.6" y="174" font-size="5.2" text-anchor="middle" font-weight="bold">GG</text>
<line x1="620.1" y1="226.4" x2="621.3" y2="226.4" stroke="#444" stroke-width="0.6"/>
<text x="619.8" y="228" font-size="3.5" text-anchor="end" fill="#333">0</text>
<line x1="620.1" y1="217.3" x2="621.3" y2="217.3" stroke="#444" stroke-width="0.6"/>
<text x="619.8" y="219" font-size="3.5" text-anchor="end" fill="#333">20</text>
<line x1="620.1" y1="207.7" x2="621.3" y2="207.7" stroke="#444" stroke-width="0.6"/>
<text x="619.8" y="209" font-size="3.5" text-anchor="end" fill="#333">40</text>
<line x1="620.1" y1="198.1" x2="621.3" y2="198.1" stroke="#444" stroke-width="0.6"/>
<text x="619.8" y="200" font-size="3.5" text-anchor="end" fill="#333">60</text>
<line x1="620.1" y1="188.6" x2="621.3" y2="188.6" stroke="#444" stroke-width="0.6"/>
<text x="619.8" y="190" font-size="3.5" text-anchor="end" fill="#333">80</text>
<line x1="620.1" y1="179" x2="621.3" y2="179" stroke="#444" stroke-width="0.6"/>
<text x="619.8" y="180" font-size="3.5" text-anchor="end" fill="#333">100</text>
<line x1="627.7" y1="226.4" x2="627.7" y2="227.6" stroke="#444" stroke-width="0.6"/>
<text x="627.7" y="232" font-size="3.5" text-anchor="middle" fill="#333">0</text>
<line x1="638" y1="226.4" x2="638" y2="227.6" stroke="#444" stroke-width="0.6"/>
<text x="638" y="232" font-size="3.5" text-anchor="middle" fill="#333">10<tspan dy="-1.3" font-size="2.6">1</tspan></text>
<line x1="649.2" y1="226.4" x2="649.2" y2="227.6" stroke="#444" stroke-width="0.6"/>
<text x="649.2" y="232" font-size="3.5" text-anchor="middle" fill="#333">10<tspan dy="-1.3" font-size="2.6">2</tspan></text>
<line x1="660.3" y1="226.4" x2="660.3" y2="227.6" stroke="#444" stroke-width="0.6"/>
<text x="660.3" y="232" font-size="3.5" text-anchor="middle" fill="#333">10<tspan dy="-1.3" font-size="2.6">3</tspan></text>
<text x="645.7" y="238" font-size="4.3" text-anchor="middle" font-weight="bold">CTLA4</text>
<text x="0" y="0" transform="translate(610.04 202.3) rotate(-90)" font-size="4.3" text-anchor="middle" font-weight="bold" textLength="18.5" lengthAdjust="spacingAndGlyphs">% of Max</text>
<path d="M621.3 201.5 C621.83 202.35 623.48 206.48 624.5 206.6 C625.52 206.72 626.55 202.2 627.4 202.2 C628.25 202.2 628.52 206.48 629.6 206.6 C630.68 206.72 632.7 204.97 633.9 202.9 C635.1 200.83 635.83 196.5 636.8 194.2 C637.77 191.9 638.85 190.8 639.7 189.1 C640.55 187.4 641.28 185.62 641.9 184 C642.52 182.38 642.78 179.15 643.4 179.4 C644.02 179.65 644.87 182.55 645.6 185.5 C646.33 188.45 646.95 192.98 647.8 197.1 C648.65 201.22 649.73 206.68 650.7 210.2 C651.67 213.72 652.75 215.77 653.6 218.2 C654.45 220.63 655.07 223.47 655.8 224.8 C656.53 226.13 655.38 225.95 658 226.2 C660.62 226.45 669.25 226.28 671.5 226.3" fill="none" stroke="#a8a8a8" stroke-width="0.8" stroke-linejoin="round"/>
<path d="M621.3 223 C621.92 223.05 623.88 223.42 625 223.3 C626.12 223.18 627 222.43 628 222.3 C629 222.17 630 222.8 631 222.5 C632 222.2 633.03 221.33 634 220.5 C634.97 219.67 635.97 218.5 636.8 217.5 C637.63 216.5 638.27 215.72 639 214.5 C639.73 213.28 640.35 213.1 641.2 210.2 C642.05 207.3 643.25 200.73 644.1 197.1 C644.95 193.47 645.57 190.7 646.3 188.4 C647.03 186.1 647.88 184.8 648.5 183.3 C649.12 181.8 649.4 178.32 650 179.4 C650.6 180.48 651.5 186.85 652.1 189.8 C652.7 192.75 652.87 192.73 653.6 197.1 C654.33 201.47 655.65 211.52 656.5 216 C657.35 220.48 657.85 222.32 658.7 224 C659.55 225.68 659.47 225.72 661.6 226.1 C663.73 226.48 669.85 226.27 671.5 226.3" fill="none" stroke="#111" stroke-width="1" stroke-linejoin="round"/>
<line x1="621.3" y1="176.2" x2="621.3" y2="226.8" stroke="#333" stroke-width="1"/>
<line x1="620.9" y1="226.4" x2="671.7" y2="226.4" stroke="#333" stroke-width="1"/>
<text x="630.9" y="183" font-size="3" text-anchor="middle" font-weight="bold" fill="#a8a8a8">VitD-</text>
<text x="658" y="187" font-size="3" text-anchor="middle" font-weight="bold" fill="#000">VitD+</text>
<path d="M169.4 268.8 H216.1 V316.6" fill="none" stroke="#c8c8c8" stroke-width="0.8" stroke-linejoin="round"/>
<text x="189.5" y="267" font-size="5.2" text-anchor="middle" font-weight="bold">AA</text>
<line x1="168.2" y1="316.1" x2="169.4" y2="316.1" stroke="#444" stroke-width="0.6"/>
<text x="167.9" y="318" font-size="3.5" text-anchor="end" fill="#333">0</text>
<line x1="168.2" y1="307.5" x2="169.4" y2="307.5" stroke="#444" stroke-width="0.6"/>
<text x="167.9" y="309" font-size="3.5" text-anchor="end" fill="#333">20</text>
<line x1="168.2" y1="298.6" x2="169.4" y2="298.6" stroke="#444" stroke-width="0.6"/>
<text x="167.9" y="300" font-size="3.5" text-anchor="end" fill="#333">40</text>
<line x1="168.2" y1="289.5" x2="169.4" y2="289.5" stroke="#444" stroke-width="0.6"/>
<text x="167.9" y="291" font-size="3.5" text-anchor="end" fill="#333">60</text>
<line x1="168.2" y1="280.4" x2="169.4" y2="280.4" stroke="#444" stroke-width="0.6"/>
<text x="167.9" y="282" font-size="3.5" text-anchor="end" fill="#333">80</text>
<line x1="168.2" y1="271.5" x2="169.4" y2="271.5" stroke="#444" stroke-width="0.6"/>
<text x="167.9" y="273" font-size="3.5" text-anchor="end" fill="#333">100</text>
<line x1="173.9" y1="316.6" x2="173.9" y2="317.8" stroke="#444" stroke-width="0.6"/>
<text x="173.9" y="322" font-size="3.5" text-anchor="middle" fill="#333">0</text>
<line x1="183.5" y1="316.6" x2="183.5" y2="317.8" stroke="#444" stroke-width="0.6"/>
<text x="183.5" y="322" font-size="3.5" text-anchor="middle" fill="#333">10<tspan dy="-1.3" font-size="2.6">1</tspan></text>
<line x1="194.6" y1="316.6" x2="194.6" y2="317.8" stroke="#444" stroke-width="0.6"/>
<text x="194.6" y="322" font-size="3.5" text-anchor="middle" fill="#333">10<tspan dy="-1.3" font-size="2.6">2</tspan></text>
<line x1="206.6" y1="316.6" x2="206.6" y2="317.8" stroke="#444" stroke-width="0.6"/>
<text x="206.6" y="322" font-size="3.5" text-anchor="middle" fill="#333">10<tspan dy="-1.3" font-size="2.6">3</tspan></text>
<text x="193" y="326" font-size="4.3" text-anchor="middle" font-weight="bold">CD25</text>
<text x="0" y="0" transform="translate(159.14 293.7) rotate(-90)" font-size="4.3" text-anchor="middle" font-weight="bold" textLength="18.5" lengthAdjust="spacingAndGlyphs">% of Max</text>
<path d="M169.6 316.2 C170.33 316.17 172.85 316.28 174 316 C175.15 315.72 175.58 315.5 176.5 314.5 C177.42 313.5 178.58 311.5 179.5 310 C180.42 308.5 181.17 308.17 182 305.5 C182.83 302.83 183.72 297.87 184.5 294 C185.28 290.13 185.95 285.47 186.7 282.3 C187.45 279.13 188.27 276.72 189 275 C189.73 273.28 190.4 272.08 191.1 272 C191.8 271.92 192.48 273.05 193.2 274.5 C193.92 275.95 194.68 277.78 195.4 280.7 C196.12 283.62 196.82 287.78 197.5 292 C198.18 296.22 198.92 302.25 199.5 306 C200.08 309.75 200.5 312.8 201 314.5 C201.5 316.2 200 315.9 202.5 316.2 C205 316.5 213.75 316.28 216 316.3" fill="none" stroke="#a8a8a8" stroke-width="0.8" stroke-linejoin="round"/>
<path d="M169.6 316.2 C171.38 316.17 177.73 316.28 180.3 316 C182.87 315.72 183.68 315.2 185 314.5 C186.32 313.8 187.12 313.13 188.2 311.8 C189.28 310.47 190.43 308.5 191.5 306.5 C192.57 304.5 193.68 302.88 194.6 299.8 C195.52 296.72 196.32 291.97 197 288 C197.68 284.03 198.22 278.67 198.7 276 C199.18 273.33 199.43 271.83 199.9 272 C200.37 272.17 200.92 272.37 201.5 277 C202.08 281.63 202.82 293.8 203.4 299.8 C203.98 305.8 204.48 310.27 205 313 C205.52 315.73 204.67 315.65 206.5 316.2 C208.33 316.75 214.42 316.28 216 316.3" fill="none" stroke="#111" stroke-width="1" stroke-linejoin="round"/>
<line x1="169.4" y1="268.8" x2="169.4" y2="317" stroke="#333" stroke-width="1"/>
<line x1="169" y1="316.6" x2="216.1" y2="316.6" stroke="#333" stroke-width="1"/>
<text x="181.1" y="281" font-size="3" text-anchor="middle" font-weight="bold" fill="#a8a8a8">VitD-</text>
<text x="209.3" y="277" font-size="3" text-anchor="middle" font-weight="bold" fill="#000">VitD+</text>
<path d="M392.8 274 H440.3 V322.5" fill="none" stroke="#c8c8c8" stroke-width="0.8" stroke-linejoin="round"/>
<text x="414" y="273" font-size="5.2" text-anchor="middle" font-weight="bold">AA</text>
<line x1="391.6" y1="323" x2="392.8" y2="323" stroke="#444" stroke-width="0.6"/>
<text x="391.3" y="324" font-size="3.5" text-anchor="end" fill="#333">0</text>
<line x1="391.6" y1="313.9" x2="392.8" y2="313.9" stroke="#444" stroke-width="0.6"/>
<text x="391.3" y="315" font-size="3.5" text-anchor="end" fill="#333">20</text>
<line x1="391.6" y1="304.6" x2="392.8" y2="304.6" stroke="#444" stroke-width="0.6"/>
<text x="391.3" y="306" font-size="3.5" text-anchor="end" fill="#333">40</text>
<line x1="391.6" y1="295.1" x2="392.8" y2="295.1" stroke="#444" stroke-width="0.6"/>
<text x="391.3" y="297" font-size="3.5" text-anchor="end" fill="#333">60</text>
<line x1="391.6" y1="285.8" x2="392.8" y2="285.8" stroke="#444" stroke-width="0.6"/>
<text x="391.3" y="287" font-size="3.5" text-anchor="end" fill="#333">80</text>
<line x1="391.6" y1="276.7" x2="392.8" y2="276.7" stroke="#444" stroke-width="0.6"/>
<text x="391.3" y="278" font-size="3.5" text-anchor="end" fill="#333">100</text>
<line x1="398.6" y1="322.5" x2="398.6" y2="323.7" stroke="#444" stroke-width="0.6"/>
<text x="398.6" y="328" font-size="3.5" text-anchor="middle" fill="#333">0</text>
<line x1="406.9" y1="322.5" x2="406.9" y2="323.7" stroke="#444" stroke-width="0.6"/>
<text x="406.9" y="328" font-size="3.5" text-anchor="middle" fill="#333">10<tspan dy="-1.3" font-size="2.6">1</tspan></text>
<line x1="418.3" y1="322.5" x2="418.3" y2="323.7" stroke="#444" stroke-width="0.6"/>
<text x="418.3" y="328" font-size="3.5" text-anchor="middle" fill="#333">10<tspan dy="-1.3" font-size="2.6">2</tspan></text>
<line x1="430.5" y1="322.5" x2="430.5" y2="323.7" stroke="#444" stroke-width="0.6"/>
<text x="430.5" y="328" font-size="3.5" text-anchor="middle" fill="#333">10<tspan dy="-1.3" font-size="2.6">3</tspan></text>
<text x="417" y="333" font-size="4.3" text-anchor="middle" font-weight="bold">Foxp3</text>
<text x="0" y="0" transform="translate(382.14 299.25) rotate(-90)" font-size="4.3" text-anchor="middle" font-weight="bold" textLength="18.5" lengthAdjust="spacingAndGlyphs">% of Max</text>
<path d="M393 322.3 C393.83 322.27 396.75 322.28 398 322.1 C399.25 321.92 399.67 321.88 400.5 321.2 C401.33 320.52 402.12 319.68 403 318 C403.88 316.32 405 314.75 405.8 311.1 C406.6 307.45 407.23 300.42 407.8 296.1 C408.37 291.78 408.73 288.28 409.2 285.2 C409.67 282.12 410.15 278.52 410.6 277.6 C411.05 276.68 411.45 277.98 411.9 279.7 C412.35 281.42 412.83 284.48 413.3 287.9 C413.77 291.32 414.13 296.55 414.7 300.2 C415.27 303.85 415.8 307.07 416.7 309.8 C417.6 312.53 418.95 314.9 420.1 316.6 C421.25 318.3 422.33 319.08 423.6 320 C424.87 320.92 424.97 321.72 427.7 322.1 C430.43 322.48 437.95 322.27 440 322.3" fill="none" stroke="#a8a8a8" stroke-width="0.8" stroke-linejoin="round"/>
<path d="M393 322.3 C393.77 322.27 396.27 322.23 397.6 322.1 C398.93 321.97 399.87 321.95 401 321.5 C402.13 321.05 403.27 321.13 404.4 319.4 C405.53 317.67 406.88 314.3 407.8 311.1 C408.72 307.9 409.22 303.83 409.9 300.2 C410.58 296.57 411.33 291.58 411.9 289.3 C412.47 287.02 412.83 287.65 413.3 286.5 C413.77 285.35 414.25 281.82 414.7 282.4 C415.15 282.98 415.55 289.32 416 290 C416.45 290.68 416.93 287.3 417.4 286.5 C417.87 285.7 418.35 286.12 418.8 285.2 C419.25 284.28 419.65 282.38 420.1 281 C420.55 279.62 421.03 277.35 421.5 276.9 C421.97 276.45 422.43 277.62 422.9 278.3 C423.37 278.98 423.97 279.17 424.3 281 C424.63 282.83 424.57 287.23 424.9 289.3 C425.23 291.37 425.83 291.35 426.3 293.4 C426.77 295.45 427.13 298.18 427.7 301.6 C428.27 305.02 429.13 310.72 429.7 313.9 C430.27 317.08 430.63 319.32 431.1 320.7 C431.57 322.08 431.02 321.93 432.5 322.2 C433.98 322.47 438.75 322.28 440 322.3" fill="none" stroke="#111" stroke-width="1" stroke-linejoin="round"/>
<line x1="392.8" y1="274" x2="392.8" y2="322.9" stroke="#333" stroke-width="1"/>
<line x1="392.4" y1="322.5" x2="440.3" y2="322.5" stroke="#333" stroke-width="1"/>
<text x="402.9" y="288" font-size="3" text-anchor="middle" font-weight="bold" fill="#a8a8a8">VitD-</text>
<text x="432" y="283" font-size="3" text-anchor="middle" font-weight="bold" fill="#000">VitD+</text>
<path d="M623.5 271.2 H673.7 V321" fill="none" stroke="#c8c8c8" stroke-width="0.8" stroke-linejoin="round"/>
<text x="646.3" y="269" font-size="5.2" text-anchor="middle" font-weight="bold">AA</text>
<line x1="622.3" y1="320.9" x2="623.5" y2="320.9" stroke="#444" stroke-width="0.6"/>
<text x="622" y="322" font-size="3.5" text-anchor="end" fill="#333">0</text>
<line x1="622.3" y1="311.5" x2="623.5" y2="311.5" stroke="#444" stroke-width="0.6"/>
<text x="622" y="313" font-size="3.5" text-anchor="end" fill="#333">20</text>
<line x1="622.3" y1="301.9" x2="623.5" y2="301.9" stroke="#444" stroke-width="0.6"/>
<text x="622" y="303" font-size="3.5" text-anchor="end" fill="#333">40</text>
<line x1="622.3" y1="292.4" x2="623.5" y2="292.4" stroke="#444" stroke-width="0.6"/>
<text x="622" y="294" font-size="3.5" text-anchor="end" fill="#333">60</text>
<line x1="622.3" y1="282.8" x2="623.5" y2="282.8" stroke="#444" stroke-width="0.6"/>
<text x="622" y="284" font-size="3.5" text-anchor="end" fill="#333">80</text>
<line x1="622.3" y1="273.5" x2="623.5" y2="273.5" stroke="#444" stroke-width="0.6"/>
<text x="622" y="275" font-size="3.5" text-anchor="end" fill="#333">100</text>
<line x1="628.5" y1="321" x2="628.5" y2="322.2" stroke="#444" stroke-width="0.6"/>
<text x="628.5" y="327" font-size="3.5" text-anchor="middle" fill="#333">0</text>
<line x1="638.3" y1="321" x2="638.3" y2="322.2" stroke="#444" stroke-width="0.6"/>
<text x="638.3" y="327" font-size="3.5" text-anchor="middle" fill="#333">10<tspan dy="-1.3" font-size="2.6">1</tspan></text>
<line x1="650.5" y1="321" x2="650.5" y2="322.2" stroke="#444" stroke-width="0.6"/>
<text x="650.5" y="327" font-size="3.5" text-anchor="middle" fill="#333">10<tspan dy="-1.3" font-size="2.6">2</tspan></text>
<line x1="662" y1="321" x2="662" y2="322.2" stroke="#444" stroke-width="0.6"/>
<text x="662" y="327" font-size="3.5" text-anchor="middle" fill="#333">10<tspan dy="-1.3" font-size="2.6">3</tspan></text>
<text x="647.7" y="333" font-size="4.3" text-anchor="middle" font-weight="bold">CTLA4</text>
<text x="0" y="0" transform="translate(612.54 297.1) rotate(-90)" font-size="4.3" text-anchor="middle" font-weight="bold" textLength="18.5" lengthAdjust="spacingAndGlyphs">% of Max</text>
<path d="M623.7 319.5 C624.17 319.25 625.52 318.6 626.5 318 C627.48 317.4 628.48 317.23 629.6 315.9 C630.72 314.57 632.12 312.43 633.2 310 C634.28 307.57 635.13 304.68 636.1 301.3 C637.07 297.92 638.15 293.33 639 289.7 C639.85 286.07 640.47 281.93 641.2 279.5 C641.93 277.07 642.67 276.08 643.4 275.1 C644.13 274.12 644.87 273.48 645.6 273.6 C646.33 273.72 647.07 273.85 647.8 275.8 C648.53 277.75 649.4 281.78 650 285.3 C650.6 288.82 650.88 292.78 651.4 296.9 C651.92 301.02 652.5 306.35 653.1 310 C653.7 313.65 654.43 317 655 318.8 C655.57 320.6 653.42 320.45 656.5 320.8 C659.58 321.15 670.67 320.88 673.5 320.9" fill="none" stroke="#a8a8a8" stroke-width="0.8" stroke-linejoin="round"/>
<path d="M623.7 319.5 C624.43 319.25 626.77 318.57 628.1 318 C629.43 317.43 630.6 316.22 631.7 316.1 C632.8 315.98 633.85 318.07 634.7 317.3 C635.55 316.53 636.2 312.95 636.8 311.5 C637.4 310.05 637.68 309.57 638.3 308.6 C638.92 307.63 639.9 307.4 640.5 305.7 C641.1 304 641.42 301.07 641.9 298.4 C642.38 295.73 642.92 292.62 643.4 289.7 C643.88 286.78 644.38 282.73 644.8 280.9 C645.22 279.07 645.53 279.42 645.9 278.7 C646.27 277.98 646.62 277.32 647 276.6 C647.38 275.88 647.77 274.28 648.2 274.4 C648.63 274.52 649.18 276.22 649.6 277.3 C650.02 278.38 650.28 278.83 650.7 280.9 C651.12 282.97 651.62 286.05 652.1 289.7 C652.58 293.35 653.12 299.17 653.6 302.8 C654.08 306.43 654.52 308.97 655 311.5 C655.48 314.03 655.88 316.45 656.5 318 C657.12 319.55 655.87 320.32 658.7 320.8 C661.53 321.28 671.03 320.88 673.5 320.9" fill="none" stroke="#111" stroke-width="1" stroke-linejoin="round"/>
<line x1="623.5" y1="271.2" x2="623.5" y2="321.4" stroke="#333" stroke-width="1"/>
<line x1="623.1" y1="321" x2="673.7" y2="321" stroke="#333" stroke-width="1"/>
<text x="632" y="285" font-size="3" text-anchor="middle" font-weight="bold" fill="#a8a8a8">VitD-</text>
<text x="662" y="286" font-size="3" text-anchor="middle" font-weight="bold" fill="#000">VitD+</text>
<path d="M172.3 363.7 H221.7 V413.6" fill="none" stroke="#c8c8c8" stroke-width="0.8" stroke-linejoin="round"/>
<text x="197.5" y="362" font-size="5.2" text-anchor="middle" font-weight="bold">AG</text>
<line x1="171.1" y1="413.5" x2="172.3" y2="413.5" stroke="#444" stroke-width="0.6"/>
<text x="170.8" y="415" font-size="3.5" text-anchor="end" fill="#333">0</text>
<line x1="171.1" y1="404.1" x2="172.3" y2="404.1" stroke="#444" stroke-width="0.6"/>
<text x="170.8" y="406" font-size="3.5" text-anchor="end" fill="#333">20</text>
<line x1="171.1" y1="394.5" x2="172.3" y2="394.5" stroke="#444" stroke-width="0.6"/>
<text x="170.8" y="396" font-size="3.5" text-anchor="end" fill="#333">40</text>
<line x1="171.1" y1="385" x2="172.3" y2="385" stroke="#444" stroke-width="0.6"/>
<text x="170.8" y="386" font-size="3.5" text-anchor="end" fill="#333">60</text>
<line x1="171.1" y1="375.4" x2="172.3" y2="375.4" stroke="#444" stroke-width="0.6"/>
<text x="170.8" y="377" font-size="3.5" text-anchor="end" fill="#333">80</text>
<line x1="171.1" y1="366.2" x2="172.3" y2="366.2" stroke="#444" stroke-width="0.6"/>
<text x="170.8" y="368" font-size="3.5" text-anchor="end" fill="#333">100</text>
<line x1="177.9" y1="413.6" x2="177.9" y2="414.8" stroke="#444" stroke-width="0.6"/>
<text x="177.9" y="419" font-size="3.5" text-anchor="middle" fill="#333">0</text>
<line x1="187.5" y1="413.6" x2="187.5" y2="414.8" stroke="#444" stroke-width="0.6"/>
<text x="187.5" y="419" font-size="3.5" text-anchor="middle" fill="#333">10<tspan dy="-1.3" font-size="2.6">1</tspan></text>
<line x1="199.1" y1="413.6" x2="199.1" y2="414.8" stroke="#444" stroke-width="0.6"/>
<text x="199.1" y="419" font-size="3.5" text-anchor="middle" fill="#333">10<tspan dy="-1.3" font-size="2.6">2</tspan></text>
<line x1="210.2" y1="413.6" x2="210.2" y2="414.8" stroke="#444" stroke-width="0.6"/>
<text x="210.2" y="419" font-size="3.5" text-anchor="middle" fill="#333">10<tspan dy="-1.3" font-size="2.6">3</tspan></text>
<text x="198.1" y="425" font-size="4.3" text-anchor="middle" font-weight="bold">CD25</text>
<text x="0" y="0" transform="translate(161.94 389.65) rotate(-90)" font-size="4.3" text-anchor="middle" font-weight="bold" textLength="18.5" lengthAdjust="spacingAndGlyphs">% of Max</text>
<path d="M172.5 413.4 C176.25 413.37 190.78 413.52 195 413.2 C199.22 412.88 197.05 412.87 197.8 411.5 C198.55 410.13 198.97 407.78 199.5 405 C200.03 402.22 200.53 398.47 201 394.8 C201.47 391.13 201.9 386.45 202.3 383 C202.7 379.55 203.02 376.52 203.4 374.1 C203.78 371.68 204.2 369.77 204.6 368.5 C205 367.23 205.35 365.92 205.8 366.5 C206.25 367.08 206.77 368.08 207.3 372 C207.83 375.92 208.5 384.33 209 390 C209.5 395.67 209.9 402.17 210.3 406 C210.7 409.83 210.07 411.77 211.4 413 C212.73 414.23 217.15 413.33 218.3 413.4" fill="none" stroke="#a8a8a8" stroke-width="0.8" stroke-linejoin="round"/>
<path d="M172.5 413.4 C175.42 413.37 186.58 413.33 190 413.2 C193.42 413.07 192 412.83 193 412.6 C194 412.37 194.93 412.23 196 411.8 C197.07 411.37 198.57 411.05 199.4 410 C200.23 408.95 200.47 407.5 201 405.5 C201.53 403.5 202.13 401.25 202.6 398 C203.07 394.75 203.4 389.98 203.8 386 C204.2 382.02 204.63 376.93 205 374.1 C205.37 371.27 205.67 370.18 206 369 C206.33 367.82 206.62 366.58 207 367 C207.38 367.42 207.83 369 208.3 371.5 C208.77 374 209.38 378.08 209.8 382 C210.22 385.92 210.47 390.73 210.8 395 C211.13 399.27 211.47 404.68 211.8 407.6 C212.13 410.52 212.48 411.55 212.8 412.5 C213.12 413.45 212.78 413.15 213.7 413.3 C214.62 413.45 217.53 413.38 218.3 413.4" fill="none" stroke="#111" stroke-width="1" stroke-linejoin="round"/>
<line x1="172.3" y1="363.7" x2="172.3" y2="414" stroke="#333" stroke-width="1"/>
<line x1="171.9" y1="413.6" x2="221.7" y2="413.6" stroke="#333" stroke-width="1"/>
<text x="195.4" y="374" font-size="3" text-anchor="middle" font-weight="bold" fill="#a8a8a8">VitD-</text>
<text x="214" y="376" font-size="3" text-anchor="middle" font-weight="bold" fill="#000">VitD+</text>
<path d="M396.4 362 H440 V405.8" fill="none" stroke="#c8c8c8" stroke-width="0.8" stroke-linejoin="round"/>
<text x="414.7" y="361" font-size="5.2" text-anchor="middle" font-weight="bold">AG</text>
<line x1="395.2" y1="406.3" x2="396.4" y2="406.3" stroke="#444" stroke-width="0.6"/>
<text x="394.9" y="408" font-size="3.5" text-anchor="end" fill="#333">0</text>
<line x1="395.2" y1="398.1" x2="396.4" y2="398.1" stroke="#444" stroke-width="0.6"/>
<text x="394.9" y="400" font-size="3.5" text-anchor="end" fill="#333">20</text>
<line x1="395.2" y1="389.5" x2="396.4" y2="389.5" stroke="#444" stroke-width="0.6"/>
<text x="394.9" y="391" font-size="3.5" text-anchor="end" fill="#333">40</text>
<line x1="395.2" y1="381.1" x2="396.4" y2="381.1" stroke="#444" stroke-width="0.6"/>
<text x="394.9" y="383" font-size="3.5" text-anchor="end" fill="#333">60</text>
<line x1="395.2" y1="372.6" x2="396.4" y2="372.6" stroke="#444" stroke-width="0.6"/>
<text x="394.9" y="374" font-size="3.5" text-anchor="end" fill="#333">80</text>
<line x1="395.2" y1="364" x2="396.4" y2="364" stroke="#444" stroke-width="0.6"/>
<text x="394.9" y="365" font-size="3.5" text-anchor="end" fill="#333">100</text>
<line x1="401.5" y1="405.8" x2="401.5" y2="407" stroke="#444" stroke-width="0.6"/>
<text x="401.5" y="412" font-size="3.5" text-anchor="middle" fill="#333">0</text>
<line x1="409.5" y1="405.8" x2="409.5" y2="407" stroke="#444" stroke-width="0.6"/>
<text x="409.5" y="412" font-size="3.5" text-anchor="middle" fill="#333">10<tspan dy="-1.3" font-size="2.6">1</tspan></text>
<line x1="420.6" y1="405.8" x2="420.6" y2="407" stroke="#444" stroke-width="0.6"/>
<text x="420.6" y="412" font-size="3.5" text-anchor="middle" fill="#333">10<tspan dy="-1.3" font-size="2.6">2</tspan></text>
<line x1="431.8" y1="405.8" x2="431.8" y2="407" stroke="#444" stroke-width="0.6"/>
<text x="431.8" y="412" font-size="3.5" text-anchor="middle" fill="#333">10<tspan dy="-1.3" font-size="2.6">3</tspan></text>
<text x="417" y="416" font-size="4.3" text-anchor="middle" font-weight="bold">Foxp3</text>
<text x="0" y="0" transform="translate(387.14 384.9) rotate(-90)" font-size="4.3" text-anchor="middle" font-weight="bold" textLength="18.5" lengthAdjust="spacingAndGlyphs">% of Max</text>
<path d="M396.1 405.8 C397.58 405.77 402.98 405.75 405 405.6 C407.02 405.45 407.23 405.98 408.2 404.9 C409.17 403.82 410.05 402.02 410.8 399.1 C411.55 396.18 412.17 391.28 412.7 387.4 C413.23 383.52 413.57 379.03 414 375.8 C414.43 372.57 414.87 369.08 415.3 368 C415.73 366.92 416.17 367.8 416.6 369.3 C417.03 370.8 417.47 374.2 417.9 377 C418.33 379.8 418.67 383.07 419.2 386.1 C419.73 389.13 420.35 392.6 421.1 395.2 C421.85 397.8 422.62 400.08 423.7 401.7 C424.78 403.32 426.38 404.23 427.6 404.9 C428.82 405.57 428.82 405.55 431 405.7 C433.18 405.85 439.08 405.78 440.7 405.8" fill="none" stroke="#a8a8a8" stroke-width="0.8" stroke-linejoin="round"/>
<path d="M396.3 404.9 C396.98 404.68 399.07 404.03 400.4 403.6 C401.73 403.17 403.22 402.62 404.3 402.3 C405.38 401.98 406.15 402.45 406.9 401.7 C407.65 400.95 408.15 399.53 408.8 397.8 C409.45 396.07 410.15 394.12 410.8 391.3 C411.45 388.48 412.17 384.35 412.7 380.9 C413.23 377.45 413.63 373.18 414 370.6 C414.37 368.02 414.58 366.17 414.9 365.4 C415.22 364.63 415.52 365.13 415.9 366 C416.28 366.87 416.77 368.77 417.2 370.6 C417.63 372.43 418.07 375.07 418.5 377 C418.93 378.93 419.37 381.55 419.8 382.2 C420.23 382.85 420.55 381.33 421.1 380.9 C421.65 380.47 422.45 379.6 423.1 379.6 C423.75 379.6 424.25 380.68 425 380.9 C425.75 381.12 426.95 380.57 427.6 380.9 C428.25 381.23 428.47 382.03 428.9 382.9 C429.33 383.77 429.77 384.27 430.2 386.1 C430.63 387.93 431.07 391.08 431.5 393.9 C431.93 396.72 432.37 401.05 432.8 403 C433.23 404.95 432.78 405.13 434.1 405.6 C435.42 406.07 439.6 405.77 440.7 405.8" fill="none" stroke="#111" stroke-width="1" stroke-linejoin="round"/>
<line x1="396.4" y1="362" x2="396.4" y2="406.2" stroke="#333" stroke-width="1"/>
<line x1="396" y1="405.8" x2="440" y2="405.8" stroke="#333" stroke-width="1"/>
<text x="404.7" y="374" font-size="3" text-anchor="middle" font-weight="bold" fill="#a8a8a8">VitD-</text>
<text x="428.6" y="375" font-size="3" text-anchor="middle" font-weight="bold" fill="#000">VitD+</text>
<path d="M621.3 362.7 H672.3 V413.7" fill="none" stroke="#c8c8c8" stroke-width="0.8" stroke-linejoin="round"/>
<text x="642.8" y="361" font-size="5.2" text-anchor="middle" font-weight="bold">AG</text>
<line x1="620.1" y1="413.7" x2="621.3" y2="413.7" stroke="#444" stroke-width="0.6"/>
<text x="619.8" y="415" font-size="3.5" text-anchor="end" fill="#333">0</text>
<line x1="620.1" y1="404.2" x2="621.3" y2="404.2" stroke="#444" stroke-width="0.6"/>
<text x="619.8" y="406" font-size="3.5" text-anchor="end" fill="#333">20</text>
<line x1="620.1" y1="394.6" x2="621.3" y2="394.6" stroke="#444" stroke-width="0.6"/>
<text x="619.8" y="396" font-size="3.5" text-anchor="end" fill="#333">40</text>
<line x1="620.1" y1="385.1" x2="621.3" y2="385.1" stroke="#444" stroke-width="0.6"/>
<text x="619.8" y="387" font-size="3.5" text-anchor="end" fill="#333">60</text>
<line x1="620.1" y1="375.2" x2="621.3" y2="375.2" stroke="#444" stroke-width="0.6"/>
<text x="619.8" y="377" font-size="3.5" text-anchor="end" fill="#333">80</text>
<line x1="620.1" y1="365.5" x2="621.3" y2="365.5" stroke="#444" stroke-width="0.6"/>
<text x="619.8" y="367" font-size="3.5" text-anchor="end" fill="#333">100</text>
<line x1="627.7" y1="413.7" x2="627.7" y2="414.9" stroke="#444" stroke-width="0.6"/>
<text x="627.7" y="420" font-size="3.5" text-anchor="middle" fill="#333">0</text>
<line x1="636.4" y1="413.7" x2="636.4" y2="414.9" stroke="#444" stroke-width="0.6"/>
<text x="636.4" y="420" font-size="3.5" text-anchor="middle" fill="#333">10<tspan dy="-1.3" font-size="2.6">1</tspan></text>
<line x1="649.2" y1="413.7" x2="649.2" y2="414.9" stroke="#444" stroke-width="0.6"/>
<text x="649.2" y="420" font-size="3.5" text-anchor="middle" fill="#333">10<tspan dy="-1.3" font-size="2.6">2</tspan></text>
<line x1="661.1" y1="413.7" x2="661.1" y2="414.9" stroke="#444" stroke-width="0.6"/>
<text x="661.1" y="420" font-size="3.5" text-anchor="middle" fill="#333">10<tspan dy="-1.3" font-size="2.6">3</tspan></text>
<text x="645.7" y="425" font-size="4.3" text-anchor="middle" font-weight="bold">Foxp3</text>
<text x="0" y="0" transform="translate(610.04 389.2) rotate(-90)" font-size="4.3" text-anchor="middle" font-weight="bold" textLength="18.5" lengthAdjust="spacingAndGlyphs">% of Max</text>
<path d="M621.5 413.5 C622.92 413.47 627.97 413.48 630 413.3 C632.03 413.12 632.62 413.27 633.7 412.4 C634.78 411.53 635.67 410.5 636.5 408.1 C637.33 405.7 638.03 402.07 638.7 398 C639.37 393.93 639.95 388.23 640.5 383.7 C641.05 379.17 641.58 373.32 642 370.8 C642.42 368.28 642.6 368.72 643 368.6 C643.4 368.48 643.93 368.78 644.4 370.1 C644.87 371.42 645.32 373.75 645.8 376.5 C646.28 379.25 646.7 382.77 647.3 386.6 C647.9 390.43 648.57 395.92 649.4 399.5 C650.23 403.08 651.22 405.95 652.3 408.1 C653.38 410.25 654.78 411.52 655.9 412.4 C657.02 413.28 656.32 413.22 659 413.4 C661.68 413.58 669.83 413.48 672 413.5" fill="none" stroke="#a8a8a8" stroke-width="0.8" stroke-linejoin="round"/>
<path d="M621.5 412.4 C621.92 412.5 623.28 412.93 624 413 C624.72 413.07 625.15 413.27 625.8 412.8 C626.45 412.33 627.07 410.8 627.9 410.2 C628.73 409.6 629.97 409.43 630.8 409.2 C631.63 408.97 632.18 409.35 632.9 408.8 C633.62 408.25 634.5 406.98 635.1 405.9 C635.7 404.82 636.02 403.85 636.5 402.3 C636.98 400.75 637.52 398.98 638 396.6 C638.48 394.22 638.93 391.35 639.4 388 C639.87 384.65 640.37 379.97 640.8 376.5 C641.23 373.03 641.63 368.87 642 367.2 C642.37 365.53 642.72 366.15 643 366.5 C643.28 366.85 643.35 367.87 643.7 369.3 C644.05 370.73 644.67 373.07 645.1 375.1 C645.53 377.13 645.87 379.83 646.3 381.5 C646.73 383.17 647.18 384.38 647.7 385.1 C648.22 385.82 648.75 385.92 649.4 385.8 C650.05 385.68 650.88 384.63 651.6 384.4 C652.32 384.17 652.87 384.28 653.7 384.4 C654.53 384.52 655.88 384.73 656.6 385.1 C657.32 385.47 657.52 385.63 658 386.6 C658.48 387.57 659.07 389 659.5 390.9 C659.93 392.8 660.17 395.13 660.6 398 C661.03 400.87 661.57 405.58 662.1 408.1 C662.63 410.62 662.15 412.2 663.8 413.1 C665.45 414 670.63 413.43 672 413.5" fill="none" stroke="#111" stroke-width="1" stroke-linejoin="round"/>
<line x1="621.3" y1="362.7" x2="621.3" y2="414.1" stroke="#333" stroke-width="1"/>
<line x1="620.9" y1="413.7" x2="672.3" y2="413.7" stroke="#333" stroke-width="1"/>
<text x="630.4" y="377" font-size="3" text-anchor="middle" font-weight="bold" fill="#a8a8a8">VitD-</text>
<text x="658.7" y="379" font-size="3" text-anchor="middle" font-weight="bold" fill="#000">VitD+</text>
<line x1="276.4" y1="37.1" x2="276.4" y2="89.9" stroke="#3a3a3a" stroke-width="1.2"/>
<line x1="275.8" y1="89.3" x2="355.4" y2="89.3" stroke="#3a3a3a" stroke-width="1.2"/>
<line x1="274.6" y1="89.3" x2="276.4" y2="89.3" stroke="#3a3a3a" stroke-width="0.9"/>
<text x="274.3" y="91" font-size="5.3" text-anchor="end" fill="#222">0</text>
<line x1="274.6" y1="76.25" x2="276.4" y2="76.25" stroke="#3a3a3a" stroke-width="0.9"/>
<text x="274.3" y="78" font-size="5.3" text-anchor="end" fill="#222">20</text>
<line x1="274.6" y1="63.2" x2="276.4" y2="63.2" stroke="#3a3a3a" stroke-width="0.9"/>
<text x="274.3" y="65" font-size="5.3" text-anchor="end" fill="#222">40</text>
<line x1="274.6" y1="50.15" x2="276.4" y2="50.15" stroke="#3a3a3a" stroke-width="0.9"/>
<text x="274.3" y="52" font-size="5.3" text-anchor="end" fill="#222">60</text>
<line x1="274.6" y1="37.1" x2="276.4" y2="37.1" stroke="#3a3a3a" stroke-width="0.9"/>
<text x="274.3" y="39" font-size="5.3" text-anchor="end" fill="#222">80</text>
<line x1="289.9" y1="43.8" x2="289.9" y2="46.4" stroke="#111" stroke-width="1"/>
<line x1="285.1" y1="43.8" x2="294.7" y2="43.8" stroke="#111" stroke-width="1.1"/>
<rect x="281" y="46.4" width="17.8" height="42.9" fill="#000"/>
<line x1="289.9" y1="89.3" x2="289.9" y2="90.8" stroke="#3a3a3a" stroke-width="0.8"/>
<text x="289.9" y="97" font-size="5.3" text-anchor="middle" fill="#222">GG</text>
<line x1="316" y1="44.8" x2="316" y2="47.5" stroke="#111" stroke-width="1"/>
<line x1="311.2" y1="44.8" x2="320.8" y2="44.8" stroke="#111" stroke-width="1.1"/>
<rect x="307" y="47.5" width="18" height="41.8" fill="#000"/>
<line x1="316" y1="89.3" x2="316" y2="90.8" stroke="#3a3a3a" stroke-width="0.8"/>
<text x="316" y="97" font-size="5.3" text-anchor="middle" fill="#222">AA</text>
<line x1="342.3" y1="45.3" x2="342.3" y2="48.7" stroke="#111" stroke-width="1"/>
<line x1="337.5" y1="45.3" x2="347.1" y2="45.3" stroke="#111" stroke-width="1.1"/>
<rect x="333.2" y="48.7" width="18.2" height="40.6" fill="#000"/>
<line x1="342.3" y1="89.3" x2="342.3" y2="90.8" stroke="#3a3a3a" stroke-width="0.8"/>
<text x="342.3" y="97" font-size="5.3" text-anchor="middle" fill="#222">AG</text>
<rect x="309.1" y="23.8" width="6" height="4.3" fill="#000"/>
<text x="318.2" y="28" font-size="5.9" fill="#111">VitD-</text>
<text x="0" y="0" transform="translate(265.27 62.8) rotate(-90)" font-size="6.9" text-anchor="middle" font-weight="bold" textLength="64.6" lengthAdjust="spacingAndGlyphs">% CD25 expression</text>
<line x1="393.7" y1="39" x2="393.7" y2="91.2" stroke="#3a3a3a" stroke-width="1.2"/>
<line x1="393.1" y1="90.6" x2="469.4" y2="90.6" stroke="#3a3a3a" stroke-width="1.2"/>
<line x1="391.9" y1="90.6" x2="393.7" y2="90.6" stroke="#3a3a3a" stroke-width="0.9"/>
<text x="391.6" y="93" font-size="5.3" text-anchor="end" fill="#222">0</text>
<line x1="391.9" y1="77.7" x2="393.7" y2="77.7" stroke="#3a3a3a" stroke-width="0.9"/>
<text x="391.6" y="80" font-size="5.3" text-anchor="end" fill="#222">10</text>
<line x1="391.9" y1="64.8" x2="393.7" y2="64.8" stroke="#3a3a3a" stroke-width="0.9"/>
<text x="391.6" y="67" font-size="5.3" text-anchor="end" fill="#222">20</text>
<line x1="391.9" y1="51.9" x2="393.7" y2="51.9" stroke="#3a3a3a" stroke-width="0.9"/>
<text x="391.6" y="54" font-size="5.3" text-anchor="end" fill="#222">30</text>
<line x1="391.9" y1="39" x2="393.7" y2="39" stroke="#3a3a3a" stroke-width="0.9"/>
<text x="391.6" y="41" font-size="5.3" text-anchor="end" fill="#222">40</text>
<line x1="406.65" y1="61.6" x2="406.65" y2="66.1" stroke="#111" stroke-width="1"/>
<line x1="401.85" y1="61.6" x2="411.45" y2="61.6" stroke="#111" stroke-width="1.1"/>
<rect x="397.7" y="66.1" width="17.9" height="24.5" fill="#000"/>
<line x1="406.65" y1="90.6" x2="406.65" y2="92.1" stroke="#3a3a3a" stroke-width="0.8"/>
<text x="406.65" y="97" font-size="5.3" text-anchor="middle" fill="#222">GG</text>
<line x1="432.65" y1="52.3" x2="432.65" y2="60.5" stroke="#111" stroke-width="1"/>
<line x1="427.85" y1="52.3" x2="437.45" y2="52.3" stroke="#111" stroke-width="1.1"/>
<rect x="423.8" y="60.5" width="17.7" height="30.1" fill="#000"/>
<line x1="432.65" y1="90.6" x2="432.65" y2="92.1" stroke="#3a3a3a" stroke-width="0.8"/>
<text x="432.65" y="97" font-size="5.3" text-anchor="middle" fill="#222">AA</text>
<line x1="458.25" y1="62.3" x2="458.25" y2="67" stroke="#111" stroke-width="1"/>
<line x1="453.45" y1="62.3" x2="463.05" y2="62.3" stroke="#111" stroke-width="1.1"/>
<rect x="449.3" y="67" width="17.9" height="23.6" fill="#000"/>
<line x1="458.25" y1="90.6" x2="458.25" y2="92.1" stroke="#3a3a3a" stroke-width="0.8"/>
<text x="458.25" y="97" font-size="5.3" text-anchor="middle" fill="#222">AG</text>
<rect x="424.3" y="24.5" width="6" height="4.3" fill="#000"/>
<text x="433.4" y="28" font-size="5.9" fill="#111">VitD-</text>
<text x="0" y="0" transform="translate(382.47 64.2) rotate(-90)" font-size="6.9" text-anchor="middle" font-weight="bold" textLength="63.7" lengthAdjust="spacingAndGlyphs">% Foxp3 expression</text>
<line x1="513.3" y1="38.62" x2="513.3" y2="90.5" stroke="#3a3a3a" stroke-width="1.2"/>
<line x1="512.7" y1="89.9" x2="589.4" y2="89.9" stroke="#3a3a3a" stroke-width="1.2"/>
<line x1="511.5" y1="89.9" x2="513.3" y2="89.9" stroke="#3a3a3a" stroke-width="0.9"/>
<text x="511.2" y="92" font-size="5.3" text-anchor="end" fill="#222">0</text>
<line x1="511.5" y1="77.08" x2="513.3" y2="77.08" stroke="#3a3a3a" stroke-width="0.9"/>
<text x="511.2" y="79" font-size="5.3" text-anchor="end" fill="#222">10</text>
<line x1="511.5" y1="64.26" x2="513.3" y2="64.26" stroke="#3a3a3a" stroke-width="0.9"/>
<text x="511.2" y="66" font-size="5.3" text-anchor="end" fill="#222">20</text>
<line x1="511.5" y1="51.44" x2="513.3" y2="51.44" stroke="#3a3a3a" stroke-width="0.9"/>
<text x="511.2" y="54" font-size="5.3" text-anchor="end" fill="#222">30</text>
<line x1="511.5" y1="38.62" x2="513.3" y2="38.62" stroke="#3a3a3a" stroke-width="0.9"/>
<text x="511.2" y="41" font-size="5.3" text-anchor="end" fill="#222">40</text>
<line x1="525.85" y1="54.3" x2="525.85" y2="59.2" stroke="#111" stroke-width="1"/>
<line x1="521.05" y1="54.3" x2="530.65" y2="54.3" stroke="#111" stroke-width="1.1"/>
<rect x="517" y="59.2" width="17.7" height="30.7" fill="#000"/>
<line x1="525.85" y1="89.9" x2="525.85" y2="91.4" stroke="#3a3a3a" stroke-width="0.8"/>
<text x="525.85" y="97" font-size="5.3" text-anchor="middle" fill="#222">GG</text>
<line x1="551.35" y1="55.9" x2="551.35" y2="59.2" stroke="#111" stroke-width="1"/>
<line x1="546.55" y1="55.9" x2="556.15" y2="55.9" stroke="#111" stroke-width="1.1"/>
<rect x="542.5" y="59.2" width="17.7" height="30.7" fill="#000"/>
<line x1="551.35" y1="89.9" x2="551.35" y2="91.4" stroke="#3a3a3a" stroke-width="0.8"/>
<text x="551.35" y="97" font-size="5.3" text-anchor="middle" fill="#222">AA</text>
<line x1="576.9" y1="60.5" x2="576.9" y2="63.4" stroke="#111" stroke-width="1"/>
<line x1="572.1" y1="60.5" x2="581.7" y2="60.5" stroke="#111" stroke-width="1.1"/>
<rect x="568" y="63.4" width="17.8" height="26.5" fill="#000"/>
<line x1="576.9" y1="89.9" x2="576.9" y2="91.4" stroke="#3a3a3a" stroke-width="0.8"/>
<text x="576.9" y="97" font-size="5.3" text-anchor="middle" fill="#222">AG</text>
<rect x="544.3" y="24.2" width="6" height="4.3" fill="#000"/>
<text x="553.4" y="28" font-size="5.9" fill="#111">VitD-</text>
<text x="0" y="0" transform="translate(500.47 63.8) rotate(-90)" font-size="6.9" text-anchor="middle" font-weight="bold" textLength="66.5" lengthAdjust="spacingAndGlyphs">% CTLA4 expression</text>
<text x="35.8" y="13" font-size="4.6" fill="#e23ee6">81.6</text>
<text x="86.7" y="13" font-size="4.6" text-anchor="end" fill="#e23ee6">4.32</text>
<text x="35.8" y="59" font-size="4.6" fill="#e23ee6">5.05</text>
<text x="86.7" y="59" font-size="4.6" text-anchor="end" fill="#e23ee6">9.05</text>
<line x1="33.6" y1="18.9" x2="34.8" y2="18.9" stroke="#666" stroke-width="0.5"/>
<text x="33.2" y="20" font-size="3.6" text-anchor="end" fill="#444">10<tspan dy="-1.3" font-size="2.7">3</tspan></text>
<line x1="33.6" y1="30.9" x2="34.8" y2="30.9" stroke="#666" stroke-width="0.5"/>
<text x="33.2" y="32" font-size="3.6" text-anchor="end" fill="#444">10<tspan dy="-1.3" font-size="2.7">2</tspan></text>
<line x1="33.6" y1="43" x2="34.8" y2="43" stroke="#666" stroke-width="0.5"/>
<text x="33.2" y="44" font-size="3.6" text-anchor="end" fill="#444">10<tspan dy="-1.3" font-size="2.7">1</tspan></text>
<line x1="33.6" y1="53.9" x2="34.8" y2="53.9" stroke="#666" stroke-width="0.5"/>
<text x="33.2" y="55" font-size="3.6" text-anchor="end" fill="#444">0</text>
<text x="34.8" y="66" font-size="3.6" text-anchor="middle" fill="#444">10<tspan dy="-1.3" font-size="2.7">0</tspan></text>
<line x1="34.8" y1="59.8" x2="34.8" y2="60.8" stroke="#666" stroke-width="0.5"/>
<text x="47.85" y="66" font-size="3.6" text-anchor="middle" fill="#444">10<tspan dy="-1.3" font-size="2.7">1</tspan></text>
<line x1="47.85" y1="59.8" x2="47.85" y2="60.8" stroke="#666" stroke-width="0.5"/>
<text x="60.9" y="66" font-size="3.6" text-anchor="middle" fill="#444">10<tspan dy="-1.3" font-size="2.7">2</tspan></text>
<line x1="60.9" y1="59.8" x2="60.9" y2="60.8" stroke="#666" stroke-width="0.5"/>
<text x="73.95" y="66" font-size="3.6" text-anchor="middle" fill="#444">10<tspan dy="-1.3" font-size="2.7">3</tspan></text>
<line x1="73.95" y1="59.8" x2="73.95" y2="60.8" stroke="#666" stroke-width="0.5"/>
<text x="87" y="66" font-size="3.6" text-anchor="middle" fill="#444">10<tspan dy="-1.3" font-size="2.7">4</tspan></text>
<line x1="87" y1="59.8" x2="87" y2="60.8" stroke="#666" stroke-width="0.5"/>
<text x="61.25" y="71" font-size="4.9" text-anchor="middle" font-weight="bold" fill="#222">Cell Trace Violet</text>
<text x="0" y="0" transform="translate(23.95 33) rotate(-90)" font-size="4.9" text-anchor="middle" font-weight="bold" fill="#222">CD25</text>
<text x="108.5" y="13" font-size="4.6" fill="#e23ee6">18.6</text>
<text x="159.8" y="13" font-size="4.6" text-anchor="end" fill="#e23ee6">0.438</text>
<text x="108.5" y="59" font-size="4.6" fill="#e23ee6">67.8</text>
<text x="159.8" y="59" font-size="4.6" text-anchor="end" fill="#e23ee6">13.2</text>
<line x1="106.3" y1="19.2" x2="107.5" y2="19.2" stroke="#666" stroke-width="0.5"/>
<text x="105.9" y="21" font-size="3.6" text-anchor="end" fill="#444">10<tspan dy="-1.3" font-size="2.7">3</tspan></text>
<line x1="106.3" y1="31.2" x2="107.5" y2="31.2" stroke="#666" stroke-width="0.5"/>
<text x="105.9" y="33" font-size="3.6" text-anchor="end" fill="#444">10<tspan dy="-1.3" font-size="2.7">2</tspan></text>
<line x1="106.3" y1="43.3" x2="107.5" y2="43.3" stroke="#666" stroke-width="0.5"/>
<text x="105.9" y="45" font-size="3.6" text-anchor="end" fill="#444">10<tspan dy="-1.3" font-size="2.7">1</tspan></text>
<line x1="106.3" y1="54.2" x2="107.5" y2="54.2" stroke="#666" stroke-width="0.5"/>
<text x="105.9" y="56" font-size="3.6" text-anchor="end" fill="#444">0</text>
<text x="107.5" y="66" font-size="3.6" text-anchor="middle" fill="#444">10<tspan dy="-1.3" font-size="2.7">0</tspan></text>
<line x1="107.5" y1="59.8" x2="107.5" y2="60.8" stroke="#666" stroke-width="0.5"/>
<text x="120.55" y="66" font-size="3.6" text-anchor="middle" fill="#444">10<tspan dy="-1.3" font-size="2.7">1</tspan></text>
<line x1="120.55" y1="59.8" x2="120.55" y2="60.8" stroke="#666" stroke-width="0.5"/>
<text x="133.6" y="66" font-size="3.6" text-anchor="middle" fill="#444">10<tspan dy="-1.3" font-size="2.7">2</tspan></text>
<line x1="133.6" y1="59.8" x2="133.6" y2="60.8" stroke="#666" stroke-width="0.5"/>
<text x="146.65" y="66" font-size="3.6" text-anchor="middle" fill="#444">10<tspan dy="-1.3" font-size="2.7">3</tspan></text>
<line x1="146.65" y1="59.8" x2="146.65" y2="60.8" stroke="#666" stroke-width="0.5"/>
<text x="159.7" y="66" font-size="3.6" text-anchor="middle" fill="#444">10<tspan dy="-1.3" font-size="2.7">4</tspan></text>
<line x1="159.7" y1="59.8" x2="159.7" y2="60.8" stroke="#666" stroke-width="0.5"/>
<text x="134.15" y="71" font-size="4.9" text-anchor="middle" font-weight="bold" fill="#222">Cell Trace Violet</text>
<text x="0" y="0" transform="translate(96.65 33.3) rotate(-90)" font-size="4.9" text-anchor="middle" font-weight="bold" fill="#222">Foxp3</text>
<text x="181.5" y="14" font-size="4.6" fill="#e23ee6">21.4</text>
<text x="232.6" y="14" font-size="4.6" text-anchor="end" fill="#e23ee6">2.47</text>
<text x="181.5" y="59" font-size="4.6" fill="#e23ee6">65.6</text>
<text x="232.6" y="59" font-size="4.6" text-anchor="end" fill="#e23ee6">10.5</text>
<line x1="179.3" y1="19.5" x2="180.5" y2="19.5" stroke="#666" stroke-width="0.5"/>
<text x="178.9" y="21" font-size="3.6" text-anchor="end" fill="#444">10<tspan dy="-1.3" font-size="2.7">3</tspan></text>
<line x1="179.3" y1="31.5" x2="180.5" y2="31.5" stroke="#666" stroke-width="0.5"/>
<text x="178.9" y="33" font-size="3.6" text-anchor="end" fill="#444">10<tspan dy="-1.3" font-size="2.7">2</tspan></text>
<line x1="179.3" y1="43.6" x2="180.5" y2="43.6" stroke="#666" stroke-width="0.5"/>
<text x="178.9" y="45" font-size="3.6" text-anchor="end" fill="#444">10<tspan dy="-1.3" font-size="2.7">1</tspan></text>
<line x1="179.3" y1="54.5" x2="180.5" y2="54.5" stroke="#666" stroke-width="0.5"/>
<text x="178.9" y="56" font-size="3.6" text-anchor="end" fill="#444">0</text>
<text x="180.5" y="66" font-size="3.6" text-anchor="middle" fill="#444">10<tspan dy="-1.3" font-size="2.7">0</tspan></text>
<line x1="180.5" y1="59.8" x2="180.5" y2="60.8" stroke="#666" stroke-width="0.5"/>
<text x="193.55" y="66" font-size="3.6" text-anchor="middle" fill="#444">10<tspan dy="-1.3" font-size="2.7">1</tspan></text>
<line x1="193.55" y1="59.8" x2="193.55" y2="60.8" stroke="#666" stroke-width="0.5"/>
<text x="206.6" y="66" font-size="3.6" text-anchor="middle" fill="#444">10<tspan dy="-1.3" font-size="2.7">2</tspan></text>
<line x1="206.6" y1="59.8" x2="206.6" y2="60.8" stroke="#666" stroke-width="0.5"/>
<text x="219.65" y="66" font-size="3.6" text-anchor="middle" fill="#444">10<tspan dy="-1.3" font-size="2.7">3</tspan></text>
<line x1="219.65" y1="59.8" x2="219.65" y2="60.8" stroke="#666" stroke-width="0.5"/>
<text x="232.7" y="66" font-size="3.6" text-anchor="middle" fill="#444">10<tspan dy="-1.3" font-size="2.7">4</tspan></text>
<line x1="232.7" y1="59.8" x2="232.7" y2="60.8" stroke="#666" stroke-width="0.5"/>
<text x="207.05" y="71" font-size="4.9" text-anchor="middle" font-weight="bold" fill="#222">Cell Trace Violet</text>
<text x="0" y="0" transform="translate(169.65 33.6) rotate(-90)" font-size="4.9" text-anchor="middle" font-weight="bold" fill="#222">CTLA4</text>
<text x="36.3" y="86" font-size="4.6" fill="#e23ee6">62.8</text>
<text x="86.9" y="86" font-size="4.6" text-anchor="end" fill="#e23ee6">3.75</text>
<text x="36.3" y="131" font-size="4.6" fill="#e23ee6">4.51</text>
<text x="86.9" y="131" font-size="4.6" text-anchor="end" fill="#e23ee6">8.97</text>
<line x1="34.1" y1="92" x2="35.3" y2="92" stroke="#666" stroke-width="0.5"/>
<text x="33.7" y="93" font-size="3.6" text-anchor="end" fill="#444">10<tspan dy="-1.3" font-size="2.7">3</tspan></text>
<line x1="34.1" y1="104" x2="35.3" y2="104" stroke="#666" stroke-width="0.5"/>
<text x="33.7" y="105" font-size="3.6" text-anchor="end" fill="#444">10<tspan dy="-1.3" font-size="2.7">2</tspan></text>
<line x1="34.1" y1="116.1" x2="35.3" y2="116.1" stroke="#666" stroke-width="0.5"/>
<text x="33.7" y="118" font-size="3.6" text-anchor="end" fill="#444">10<tspan dy="-1.3" font-size="2.7">1</tspan></text>
<line x1="34.1" y1="127" x2="35.3" y2="127" stroke="#666" stroke-width="0.5"/>
<text x="33.7" y="128" font-size="3.6" text-anchor="end" fill="#444">0</text>
<text x="35.3" y="139" font-size="3.6" text-anchor="middle" fill="#444">10<tspan dy="-1.3" font-size="2.7">0</tspan></text>
<line x1="35.3" y1="132.1" x2="35.3" y2="133.1" stroke="#666" stroke-width="0.5"/>
<text x="48.35" y="139" font-size="3.6" text-anchor="middle" fill="#444">10<tspan dy="-1.3" font-size="2.7">1</tspan></text>
<line x1="48.35" y1="132.1" x2="48.35" y2="133.1" stroke="#666" stroke-width="0.5"/>
<text x="61.4" y="139" font-size="3.6" text-anchor="middle" fill="#444">10<tspan dy="-1.3" font-size="2.7">2</tspan></text>
<line x1="61.4" y1="132.1" x2="61.4" y2="133.1" stroke="#666" stroke-width="0.5"/>
<text x="74.45" y="139" font-size="3.6" text-anchor="middle" fill="#444">10<tspan dy="-1.3" font-size="2.7">3</tspan></text>
<line x1="74.45" y1="132.1" x2="74.45" y2="133.1" stroke="#666" stroke-width="0.5"/>
<text x="87.5" y="139" font-size="3.6" text-anchor="middle" fill="#444">10<tspan dy="-1.3" font-size="2.7">4</tspan></text>
<line x1="87.5" y1="132.1" x2="87.5" y2="133.1" stroke="#666" stroke-width="0.5"/>
<text x="61.6" y="143" font-size="4.9" text-anchor="middle" font-weight="bold" fill="#222">Cell Trace Violet</text>
<text x="0" y="0" transform="translate(24.45 106.1) rotate(-90)" font-size="4.9" text-anchor="middle" font-weight="bold" fill="#222">CD25</text>
<text x="108.9" y="86" font-size="4.6" fill="#e23ee6">36</text>
<text x="159" y="86" font-size="4.6" text-anchor="end" fill="#e23ee6">0.464</text>
<text x="108.9" y="130" font-size="4.6" fill="#e23ee6">51</text>
<text x="159" y="130" font-size="4.6" text-anchor="end" fill="#e23ee6">12.6</text>
<line x1="106.7" y1="91.7" x2="107.9" y2="91.7" stroke="#666" stroke-width="0.5"/>
<text x="106.3" y="93" font-size="3.6" text-anchor="end" fill="#444">10<tspan dy="-1.3" font-size="2.7">3</tspan></text>
<line x1="106.7" y1="103.7" x2="107.9" y2="103.7" stroke="#666" stroke-width="0.5"/>
<text x="106.3" y="105" font-size="3.6" text-anchor="end" fill="#444">10<tspan dy="-1.3" font-size="2.7">2</tspan></text>
<line x1="106.7" y1="115.8" x2="107.9" y2="115.8" stroke="#666" stroke-width="0.5"/>
<text x="106.3" y="117" font-size="3.6" text-anchor="end" fill="#444">10<tspan dy="-1.3" font-size="2.7">1</tspan></text>
<line x1="106.7" y1="126.7" x2="107.9" y2="126.7" stroke="#666" stroke-width="0.5"/>
<text x="106.3" y="128" font-size="3.6" text-anchor="end" fill="#444">0</text>
<text x="107.9" y="138" font-size="3.6" text-anchor="middle" fill="#444">10<tspan dy="-1.3" font-size="2.7">0</tspan></text>
<line x1="107.9" y1="131.6" x2="107.9" y2="132.6" stroke="#666" stroke-width="0.5"/>
<text x="120.95" y="138" font-size="3.6" text-anchor="middle" fill="#444">10<tspan dy="-1.3" font-size="2.7">1</tspan></text>
<line x1="120.95" y1="131.6" x2="120.95" y2="132.6" stroke="#666" stroke-width="0.5"/>
<text x="134" y="138" font-size="3.6" text-anchor="middle" fill="#444">10<tspan dy="-1.3" font-size="2.7">2</tspan></text>
<line x1="134" y1="131.6" x2="134" y2="132.6" stroke="#666" stroke-width="0.5"/>
<text x="147.05" y="138" font-size="3.6" text-anchor="middle" fill="#444">10<tspan dy="-1.3" font-size="2.7">3</tspan></text>
<line x1="147.05" y1="131.6" x2="147.05" y2="132.6" stroke="#666" stroke-width="0.5"/>
<text x="160.1" y="138" font-size="3.6" text-anchor="middle" fill="#444">10<tspan dy="-1.3" font-size="2.7">4</tspan></text>
<line x1="160.1" y1="131.6" x2="160.1" y2="132.6" stroke="#666" stroke-width="0.5"/>
<text x="133.95" y="143" font-size="4.9" text-anchor="middle" font-weight="bold" fill="#222">Cell Trace Violet</text>
<text x="0" y="0" transform="translate(97.05 105.8) rotate(-90)" font-size="4.9" text-anchor="middle" font-weight="bold" fill="#222">Foxp3</text>
<text x="180.9" y="86" font-size="4.6" fill="#e23ee6">42</text>
<text x="231" y="86" font-size="4.6" text-anchor="end" fill="#e23ee6">3.03</text>
<text x="180.9" y="130" font-size="4.6" fill="#e23ee6">45.6</text>
<text x="231" y="130" font-size="4.6" text-anchor="end" fill="#e23ee6">9.33</text>
<line x1="178.7" y1="91.7" x2="179.9" y2="91.7" stroke="#666" stroke-width="0.5"/>
<text x="178.3" y="93" font-size="3.6" text-anchor="end" fill="#444">10<tspan dy="-1.3" font-size="2.7">3</tspan></text>
<line x1="178.7" y1="103.7" x2="179.9" y2="103.7" stroke="#666" stroke-width="0.5"/>
<text x="178.3" y="105" font-size="3.6" text-anchor="end" fill="#444">10<tspan dy="-1.3" font-size="2.7">2</tspan></text>
<line x1="178.7" y1="115.8" x2="179.9" y2="115.8" stroke="#666" stroke-width="0.5"/>
<text x="178.3" y="117" font-size="3.6" text-anchor="end" fill="#444">10<tspan dy="-1.3" font-size="2.7">1</tspan></text>
<line x1="178.7" y1="126.7" x2="179.9" y2="126.7" stroke="#666" stroke-width="0.5"/>
<text x="178.3" y="128" font-size="3.6" text-anchor="end" fill="#444">0</text>
<text x="179.9" y="138" font-size="3.6" text-anchor="middle" fill="#444">10<tspan dy="-1.3" font-size="2.7">0</tspan></text>
<line x1="179.9" y1="131.6" x2="179.9" y2="132.6" stroke="#666" stroke-width="0.5"/>
<text x="192.95" y="138" font-size="3.6" text-anchor="middle" fill="#444">10<tspan dy="-1.3" font-size="2.7">1</tspan></text>
<line x1="192.95" y1="131.6" x2="192.95" y2="132.6" stroke="#666" stroke-width="0.5"/>
<text x="206" y="138" font-size="3.6" text-anchor="middle" fill="#444">10<tspan dy="-1.3" font-size="2.7">2</tspan></text>
<line x1="206" y1="131.6" x2="206" y2="132.6" stroke="#666" stroke-width="0.5"/>
<text x="219.05" y="138" font-size="3.6" text-anchor="middle" fill="#444">10<tspan dy="-1.3" font-size="2.7">3</tspan></text>
<line x1="219.05" y1="131.6" x2="219.05" y2="132.6" stroke="#666" stroke-width="0.5"/>
<text x="232.1" y="138" font-size="3.6" text-anchor="middle" fill="#444">10<tspan dy="-1.3" font-size="2.7">4</tspan></text>
<line x1="232.1" y1="131.6" x2="232.1" y2="132.6" stroke="#666" stroke-width="0.5"/>
<text x="205.95" y="143" font-size="4.9" text-anchor="middle" font-weight="bold" fill="#222">Cell Trace Violet</text>
<text x="0" y="0" transform="translate(169.05 105.8) rotate(-90)" font-size="4.9" text-anchor="middle" font-weight="bold" fill="#222">CTLA4</text>
<text x="0" y="0" transform="translate(14.51 33.2) rotate(-90)" font-size="7.3" text-anchor="middle" font-weight="bold">VitD -</text>
<text x="0" y="0" transform="translate(14.91 105.5) rotate(-90)" font-size="7.3" text-anchor="middle" font-weight="bold">VitD +</text>
</svg>
</body></html>
